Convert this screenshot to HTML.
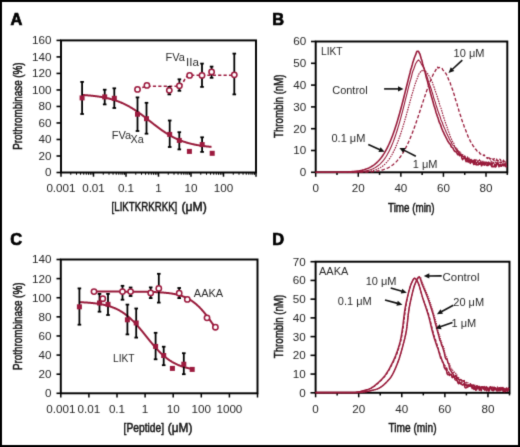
<!DOCTYPE html>
<html><head><meta charset="utf-8"><style>
html,body{margin:0;padding:0;background:#fff;}
svg{display:block;}
#w{width:520px;height:447px;overflow:hidden;}
text{font-family:"Liberation Sans", sans-serif;}
</style></head><body><div id="w">
<svg width="520" height="447" viewBox="0 0 520 447">
<defs><filter id="soft" x="0" y="0" width="520" height="447" filterUnits="userSpaceOnUse" color-interpolation-filters="sRGB"><feConvolveMatrix order="3" kernelMatrix="1 6 1 6 36 6 1 6 1" divisor="64" edgeMode="duplicate"/></filter></defs>
<g filter="url(#soft)">
<rect width="520" height="447" fill="#fff"/>
<rect x="1" y="1" width="518" height="445" fill="none" stroke="#000" stroke-width="2"/>
<text x="10.4" y="24.8" font-size="16.4" font-weight="bold" fill="#000" stroke="#000" stroke-width="0.7">A</text>
<rect x="61.0" y="40.4" width="195.0" height="132.1" fill="none" stroke="#000" stroke-width="1.95"/>
<line x1="56.50" y1="172.50" x2="61.00" y2="172.50" stroke="#000" stroke-width="1.6" />
<text x="51.50" y="176.40" font-size="10.8" text-anchor="end" fill="#262626" font-weight="normal" textLength="6.49" lengthAdjust="spacingAndGlyphs" >0</text>
<line x1="56.50" y1="155.99" x2="61.00" y2="155.99" stroke="#000" stroke-width="1.6" />
<text x="51.50" y="159.89" font-size="10.8" text-anchor="end" fill="#262626" font-weight="normal" textLength="12.97" lengthAdjust="spacingAndGlyphs" >20</text>
<line x1="56.50" y1="139.47" x2="61.00" y2="139.47" stroke="#000" stroke-width="1.6" />
<text x="51.50" y="143.38" font-size="10.8" text-anchor="end" fill="#262626" font-weight="normal" textLength="12.97" lengthAdjust="spacingAndGlyphs" >40</text>
<line x1="56.50" y1="122.96" x2="61.00" y2="122.96" stroke="#000" stroke-width="1.6" />
<text x="51.50" y="126.86" font-size="10.8" text-anchor="end" fill="#262626" font-weight="normal" textLength="12.97" lengthAdjust="spacingAndGlyphs" >60</text>
<line x1="56.50" y1="106.45" x2="61.00" y2="106.45" stroke="#000" stroke-width="1.6" />
<text x="51.50" y="110.35" font-size="10.8" text-anchor="end" fill="#262626" font-weight="normal" textLength="12.97" lengthAdjust="spacingAndGlyphs" >80</text>
<line x1="56.50" y1="89.94" x2="61.00" y2="89.94" stroke="#000" stroke-width="1.6" />
<text x="51.50" y="93.84" font-size="10.8" text-anchor="end" fill="#262626" font-weight="normal" textLength="19.46" lengthAdjust="spacingAndGlyphs" >100</text>
<line x1="56.50" y1="73.42" x2="61.00" y2="73.42" stroke="#000" stroke-width="1.6" />
<text x="51.50" y="77.33" font-size="10.8" text-anchor="end" fill="#262626" font-weight="normal" textLength="19.46" lengthAdjust="spacingAndGlyphs" >120</text>
<line x1="56.50" y1="56.91" x2="61.00" y2="56.91" stroke="#000" stroke-width="1.6" />
<text x="51.50" y="60.81" font-size="10.8" text-anchor="end" fill="#262626" font-weight="normal" textLength="19.46" lengthAdjust="spacingAndGlyphs" >140</text>
<line x1="56.50" y1="40.40" x2="61.00" y2="40.40" stroke="#000" stroke-width="1.6" />
<text x="51.50" y="44.30" font-size="10.8" text-anchor="end" fill="#262626" font-weight="normal" textLength="19.46" lengthAdjust="spacingAndGlyphs" >160</text>
<line x1="61.00" y1="172.50" x2="61.00" y2="176.70" stroke="#000" stroke-width="1.5" />
<text x="61.00" y="192.00" font-size="10.8" text-anchor="middle" fill="#262626" font-weight="normal" textLength="29.19" lengthAdjust="spacingAndGlyphs" >0.001</text>
<line x1="70.78" y1="172.50" x2="70.78" y2="174.80" stroke="#000" stroke-width="1.0" />
<line x1="76.51" y1="172.50" x2="76.51" y2="174.80" stroke="#000" stroke-width="1.0" />
<line x1="80.57" y1="172.50" x2="80.57" y2="174.80" stroke="#000" stroke-width="1.0" />
<line x1="83.72" y1="172.50" x2="83.72" y2="174.80" stroke="#000" stroke-width="1.0" />
<line x1="86.29" y1="172.50" x2="86.29" y2="174.80" stroke="#000" stroke-width="1.0" />
<line x1="88.47" y1="172.50" x2="88.47" y2="174.80" stroke="#000" stroke-width="1.0" />
<line x1="90.35" y1="172.50" x2="90.35" y2="174.80" stroke="#000" stroke-width="1.0" />
<line x1="92.01" y1="172.50" x2="92.01" y2="174.80" stroke="#000" stroke-width="1.0" />
<line x1="93.50" y1="172.50" x2="93.50" y2="176.70" stroke="#000" stroke-width="1.5" />
<text x="93.50" y="192.00" font-size="10.8" text-anchor="middle" fill="#262626" font-weight="normal" textLength="22.70" lengthAdjust="spacingAndGlyphs" >0.01</text>
<line x1="103.28" y1="172.50" x2="103.28" y2="174.80" stroke="#000" stroke-width="1.0" />
<line x1="109.01" y1="172.50" x2="109.01" y2="174.80" stroke="#000" stroke-width="1.0" />
<line x1="113.07" y1="172.50" x2="113.07" y2="174.80" stroke="#000" stroke-width="1.0" />
<line x1="116.22" y1="172.50" x2="116.22" y2="174.80" stroke="#000" stroke-width="1.0" />
<line x1="118.79" y1="172.50" x2="118.79" y2="174.80" stroke="#000" stroke-width="1.0" />
<line x1="120.97" y1="172.50" x2="120.97" y2="174.80" stroke="#000" stroke-width="1.0" />
<line x1="122.85" y1="172.50" x2="122.85" y2="174.80" stroke="#000" stroke-width="1.0" />
<line x1="124.51" y1="172.50" x2="124.51" y2="174.80" stroke="#000" stroke-width="1.0" />
<line x1="126.00" y1="172.50" x2="126.00" y2="176.70" stroke="#000" stroke-width="1.5" />
<text x="126.00" y="192.00" font-size="10.8" text-anchor="middle" fill="#262626" font-weight="normal" textLength="16.21" lengthAdjust="spacingAndGlyphs" >0.1</text>
<line x1="135.78" y1="172.50" x2="135.78" y2="174.80" stroke="#000" stroke-width="1.0" />
<line x1="141.51" y1="172.50" x2="141.51" y2="174.80" stroke="#000" stroke-width="1.0" />
<line x1="145.57" y1="172.50" x2="145.57" y2="174.80" stroke="#000" stroke-width="1.0" />
<line x1="148.72" y1="172.50" x2="148.72" y2="174.80" stroke="#000" stroke-width="1.0" />
<line x1="151.29" y1="172.50" x2="151.29" y2="174.80" stroke="#000" stroke-width="1.0" />
<line x1="153.47" y1="172.50" x2="153.47" y2="174.80" stroke="#000" stroke-width="1.0" />
<line x1="155.35" y1="172.50" x2="155.35" y2="174.80" stroke="#000" stroke-width="1.0" />
<line x1="157.01" y1="172.50" x2="157.01" y2="174.80" stroke="#000" stroke-width="1.0" />
<line x1="158.50" y1="172.50" x2="158.50" y2="176.70" stroke="#000" stroke-width="1.5" />
<text x="158.50" y="192.00" font-size="10.8" text-anchor="middle" fill="#262626" font-weight="normal" textLength="6.49" lengthAdjust="spacingAndGlyphs" >1</text>
<line x1="168.28" y1="172.50" x2="168.28" y2="174.80" stroke="#000" stroke-width="1.0" />
<line x1="174.01" y1="172.50" x2="174.01" y2="174.80" stroke="#000" stroke-width="1.0" />
<line x1="178.07" y1="172.50" x2="178.07" y2="174.80" stroke="#000" stroke-width="1.0" />
<line x1="181.22" y1="172.50" x2="181.22" y2="174.80" stroke="#000" stroke-width="1.0" />
<line x1="183.79" y1="172.50" x2="183.79" y2="174.80" stroke="#000" stroke-width="1.0" />
<line x1="185.97" y1="172.50" x2="185.97" y2="174.80" stroke="#000" stroke-width="1.0" />
<line x1="187.85" y1="172.50" x2="187.85" y2="174.80" stroke="#000" stroke-width="1.0" />
<line x1="189.51" y1="172.50" x2="189.51" y2="174.80" stroke="#000" stroke-width="1.0" />
<line x1="191.00" y1="172.50" x2="191.00" y2="176.70" stroke="#000" stroke-width="1.5" />
<text x="191.00" y="192.00" font-size="10.8" text-anchor="middle" fill="#262626" font-weight="normal" textLength="12.97" lengthAdjust="spacingAndGlyphs" >10</text>
<line x1="200.78" y1="172.50" x2="200.78" y2="174.80" stroke="#000" stroke-width="1.0" />
<line x1="206.51" y1="172.50" x2="206.51" y2="174.80" stroke="#000" stroke-width="1.0" />
<line x1="210.57" y1="172.50" x2="210.57" y2="174.80" stroke="#000" stroke-width="1.0" />
<line x1="213.72" y1="172.50" x2="213.72" y2="174.80" stroke="#000" stroke-width="1.0" />
<line x1="216.29" y1="172.50" x2="216.29" y2="174.80" stroke="#000" stroke-width="1.0" />
<line x1="218.47" y1="172.50" x2="218.47" y2="174.80" stroke="#000" stroke-width="1.0" />
<line x1="220.35" y1="172.50" x2="220.35" y2="174.80" stroke="#000" stroke-width="1.0" />
<line x1="222.01" y1="172.50" x2="222.01" y2="174.80" stroke="#000" stroke-width="1.0" />
<line x1="223.50" y1="172.50" x2="223.50" y2="176.70" stroke="#000" stroke-width="1.5" />
<text x="223.50" y="192.00" font-size="10.8" text-anchor="middle" fill="#262626" font-weight="normal" textLength="19.46" lengthAdjust="spacingAndGlyphs" >100</text>
<line x1="233.28" y1="172.50" x2="233.28" y2="174.80" stroke="#000" stroke-width="1.0" />
<line x1="239.01" y1="172.50" x2="239.01" y2="174.80" stroke="#000" stroke-width="1.0" />
<line x1="243.07" y1="172.50" x2="243.07" y2="174.80" stroke="#000" stroke-width="1.0" />
<line x1="246.22" y1="172.50" x2="246.22" y2="174.80" stroke="#000" stroke-width="1.0" />
<line x1="248.79" y1="172.50" x2="248.79" y2="174.80" stroke="#000" stroke-width="1.0" />
<line x1="250.97" y1="172.50" x2="250.97" y2="174.80" stroke="#000" stroke-width="1.0" />
<line x1="252.85" y1="172.50" x2="252.85" y2="174.80" stroke="#000" stroke-width="1.0" />
<line x1="254.51" y1="172.50" x2="254.51" y2="174.80" stroke="#000" stroke-width="1.0" />
<line x1="256.00" y1="172.50" x2="256.00" y2="176.70" stroke="#000" stroke-width="1.5" />
<text x="111.60" y="211.30" font-size="12.2" fill="#151515" stroke="#151515" stroke-width="0.5" textLength="65.70" lengthAdjust="spacingAndGlyphs">[LIKTKRKRKK]</text>
<text x="181.40" y="211.30" font-size="12.2" fill="#151515" stroke="#151515" stroke-width="0.5" textLength="25.40" lengthAdjust="spacingAndGlyphs">(μM)</text>
<text x="0" y="0" transform="translate(22.30,106.10) rotate(-90)" font-size="12.2" text-anchor="middle" fill="#151515" stroke="#151515" stroke-width="0.5" textLength="87.4" lengthAdjust="spacingAndGlyphs">Prothrombinase (%)</text>
<path d="M137.00,88.90 L137.50,88.77 L138.00,88.64 L138.50,88.51 L139.00,88.38 L139.50,88.25 L140.00,88.12 L140.50,87.99 L141.00,87.86 L141.50,87.73 L142.00,87.60 L142.50,87.47 L143.00,87.34 L143.50,87.21 L144.00,87.08 L144.50,86.95 L145.00,86.82 L145.50,86.69 L146.00,86.56 L146.50,86.43 L147.00,86.30 L147.50,86.30 L148.00,86.30 L148.50,86.30 L149.00,86.30 L149.50,86.30 L150.00,86.30 L150.50,86.30 L151.00,86.30 L151.50,86.30 L152.00,86.30 L152.50,86.30 L153.00,86.30 L153.50,86.30 L154.00,86.30 L154.50,86.30 L155.00,86.30 L155.50,86.30 L156.00,86.30 L156.50,86.30 L157.00,86.30 L157.50,86.30 L158.00,86.30 L158.50,86.30 L159.00,86.30 L159.50,86.30 L160.00,86.30 L160.50,86.30 L161.00,86.30 L161.50,86.30 L162.00,86.30 L162.50,86.30 L163.00,86.30 L163.50,86.30 L164.00,86.30 L164.50,86.30 L165.00,86.30 L165.50,86.30 L166.00,86.30 L166.50,86.30 L167.00,86.30 L167.50,86.30 L168.00,86.30 L168.50,86.30 L169.00,86.30 L169.50,86.30 L170.00,86.30 L170.50,86.30 L171.00,86.30 L171.50,86.30 L172.00,86.30 L172.50,86.29 L173.00,86.29 L173.50,86.29 L174.00,86.29 L174.50,86.28 L175.00,86.27 L175.50,86.26 L176.00,86.25 L176.50,86.23 L177.00,86.20 L177.50,86.16 L178.00,86.10 L178.50,86.02 L179.00,85.92 L179.50,85.77 L180.00,85.58 L180.50,85.32 L181.00,84.98 L181.50,84.54 L182.00,83.98 L182.50,83.31 L183.00,82.53 L183.50,81.67 L184.00,80.75 L184.50,79.83 L185.00,78.97 L185.50,78.19 L186.00,77.52 L186.50,76.96 L187.00,76.52 L187.50,76.18 L188.00,75.92 L188.50,75.73 L189.00,75.58 L189.50,75.48 L190.00,75.40 L190.50,75.34 L191.00,75.30 L191.50,75.27 L192.00,75.25 L192.50,75.24 L193.00,75.23 L193.50,75.22 L194.00,75.21 L194.50,75.21 L195.00,75.21 L195.50,75.21 L196.00,75.20 L196.50,75.20 L197.00,75.20 L197.50,75.20 L198.00,75.20 L198.50,75.20 L199.00,75.20 L199.50,75.20 L200.00,75.20 L200.50,75.20 L201.00,75.20 L201.50,75.20 L202.00,75.20 L202.50,75.20 L203.00,75.20 L203.50,75.20 L204.00,75.20 L204.50,75.20 L205.00,75.20 L205.50,75.20 L206.00,75.20 L206.50,75.20 L207.00,75.20 L207.50,75.20 L208.00,75.20 L208.50,75.20 L209.00,75.20 L209.50,75.20 L210.00,75.20 L210.50,75.20 L211.00,75.20 L211.50,75.20 L212.00,75.20 L212.50,75.20 L213.00,75.20 L213.50,75.20 L214.00,75.20 L214.50,75.20 L215.00,75.20 L215.50,75.20 L216.00,75.20 L216.50,75.20 L217.00,75.20 L217.50,75.20 L218.00,75.20 L218.50,75.20 L219.00,75.20 L219.50,75.20 L220.00,75.20 L220.50,75.20 L221.00,75.20 L221.50,75.20 L222.00,75.20 L222.50,75.20 L223.00,75.20 L223.50,75.20 L224.00,75.20 L224.50,75.20 L225.00,75.20 L225.50,75.20 L226.00,75.20 L226.50,75.20 L227.00,75.20 L227.50,75.20 L228.00,75.20 L228.50,75.20 L229.00,75.20 L229.50,75.20 L230.00,75.20 L230.50,75.20 L231.00,75.20 L231.50,75.20 L232.00,75.20 L232.50,75.20 L233.00,75.20 L233.50,75.20 L234.00,75.20 L234.50,75.20" fill="none" stroke="#9c1a3e" stroke-width="1.6" stroke-linejoin="round" stroke-dasharray="3.2,2.2"/>
<path d="M82.00,94.96 L82.50,94.99 L83.00,95.02 L83.50,95.05 L84.00,95.08 L84.50,95.12 L85.00,95.15 L85.50,95.19 L86.00,95.22 L86.50,95.26 L87.00,95.30 L87.50,95.34 L88.00,95.38 L88.50,95.42 L89.00,95.47 L89.50,95.51 L90.00,95.56 L90.50,95.60 L91.00,95.65 L91.50,95.70 L92.00,95.75 L92.50,95.81 L93.00,95.86 L93.50,95.91 L94.00,95.97 L94.50,96.03 L95.00,96.09 L95.50,96.15 L96.00,96.21 L96.50,96.28 L97.00,96.35 L97.50,96.41 L98.00,96.48 L98.50,96.56 L99.00,96.63 L99.50,96.71 L100.00,96.78 L100.50,96.86 L101.00,96.95 L101.50,97.03 L102.00,97.12 L102.50,97.21 L103.00,97.30 L103.50,97.39 L104.00,97.49 L104.50,97.58 L105.00,97.68 L105.50,97.79 L106.00,97.89 L106.50,98.00 L107.00,98.11 L107.50,98.23 L108.00,98.34 L108.50,98.46 L109.00,98.58 L109.50,98.71 L110.00,98.84 L110.50,98.97 L111.00,99.10 L111.50,99.24 L112.00,99.38 L112.50,99.53 L113.00,99.67 L113.50,99.82 L114.00,99.98 L114.50,100.14 L115.00,100.30 L115.50,100.46 L116.00,100.63 L116.50,100.80 L117.00,100.98 L117.50,101.16 L118.00,101.34 L118.50,101.53 L119.00,101.72 L119.50,101.92 L120.00,102.12 L120.50,102.32 L121.00,102.53 L121.50,102.74 L122.00,102.96 L122.50,103.18 L123.00,103.40 L123.50,103.63 L124.00,103.87 L124.50,104.10 L125.00,104.35 L125.50,104.59 L126.00,104.84 L126.50,105.10 L127.00,105.36 L127.50,105.62 L128.00,105.89 L128.50,106.16 L129.00,106.44 L129.50,106.72 L130.00,107.00 L130.50,107.29 L131.00,107.59 L131.50,107.89 L132.00,108.19 L132.50,108.50 L133.00,108.81 L133.50,109.12 L134.00,109.44 L134.50,109.76 L135.00,110.09 L135.50,110.42 L136.00,110.76 L136.50,111.09 L137.00,111.44 L137.50,111.78 L138.00,112.13 L138.50,112.48 L139.00,112.84 L139.50,113.20 L140.00,113.56 L140.50,113.92 L141.00,114.29 L141.50,114.66 L142.00,115.03 L142.50,115.41 L143.00,115.79 L143.50,116.17 L144.00,116.55 L144.50,116.93 L145.00,117.32 L145.50,117.70 L146.00,118.09 L146.50,118.48 L147.00,118.87 L147.50,119.26 L148.00,119.66 L148.50,120.05 L149.00,120.44 L149.50,120.83 L150.00,121.23 L150.50,121.62 L151.00,122.02 L151.50,122.41 L152.00,122.80 L152.50,123.19 L153.00,123.58 L153.50,123.98 L154.00,124.36 L154.50,124.75 L155.00,125.14 L155.50,125.52 L156.00,125.91 L156.50,126.29 L157.00,126.66 L157.50,127.04 L158.00,127.42 L158.50,127.79 L159.00,128.16 L159.50,128.52 L160.00,128.89 L160.50,129.25 L161.00,129.60 L161.50,129.96 L162.00,130.31 L162.50,130.66 L163.00,131.00 L163.50,131.34 L164.00,131.68 L164.50,132.01 L165.00,132.34 L165.50,132.67 L166.00,132.99 L166.50,133.31 L167.00,133.62 L167.50,133.93 L168.00,134.23 L168.50,134.53 L169.00,134.83 L169.50,135.12 L170.00,135.41 L170.50,135.69 L171.00,135.97 L171.50,136.25 L172.00,136.52 L172.50,136.79 L173.00,137.05 L173.50,137.31 L174.00,137.56 L174.50,137.81 L175.00,138.05 L175.50,138.29 L176.00,138.53 L176.50,138.76 L177.00,138.99 L177.50,139.21 L178.00,139.43 L178.50,139.64 L179.00,139.85 L179.50,140.06 L180.00,140.26 L180.50,140.46 L181.00,140.65 L181.50,140.84 L182.00,141.03 L182.50,141.21 L183.00,141.39 L183.50,141.57 L184.00,141.74 L184.50,141.90 L185.00,142.07 L185.50,142.23 L186.00,142.38 L186.50,142.54 L187.00,142.69 L187.50,142.83 L188.00,142.97 L188.50,143.11 L189.00,143.25 L189.50,143.38 L190.00,143.51 L190.50,143.64 L191.00,143.77 L191.50,143.89 L192.00,144.00 L192.50,144.12 L193.00,144.23 L193.50,144.34 L194.00,144.45 L194.50,144.55 L195.00,144.66 L195.50,144.76 L196.00,144.85 L196.50,144.95 L197.00,145.04 L197.50,145.13 L198.00,145.22 L198.50,145.30 L199.00,145.39 L199.50,145.47 L200.00,145.55 L200.50,145.62 L201.00,145.70 L201.50,145.77 L202.00,145.84 L202.50,145.91 L203.00,145.98 L203.50,146.05 L204.00,146.11 L204.50,146.17 L205.00,146.23 L205.50,146.29 L206.00,146.35 L206.50,146.41 L207.00,146.46 L207.50,146.52 L208.00,146.57 L208.50,146.62 L209.00,146.67 L209.50,146.72 L210.00,146.76 L210.50,146.81 L211.00,146.85 L211.50,146.89" fill="none" stroke="#981a3a" stroke-width="2.0" stroke-linejoin="round" />
<line x1="82.10" y1="81.90" x2="82.10" y2="114.00" stroke="#000" stroke-width="1.8" />
<line x1="80.30" y1="81.90" x2="83.90" y2="81.90" stroke="#000" stroke-width="1.8" />
<line x1="80.30" y1="114.00" x2="83.90" y2="114.00" stroke="#000" stroke-width="1.8" />
<line x1="104.70" y1="89.70" x2="104.70" y2="104.40" stroke="#000" stroke-width="1.8" />
<line x1="102.90" y1="89.70" x2="106.50" y2="89.70" stroke="#000" stroke-width="1.8" />
<line x1="102.90" y1="104.40" x2="106.50" y2="104.40" stroke="#000" stroke-width="1.8" />
<line x1="114.30" y1="88.30" x2="114.30" y2="108.00" stroke="#000" stroke-width="1.8" />
<line x1="112.50" y1="88.30" x2="116.10" y2="88.30" stroke="#000" stroke-width="1.8" />
<line x1="112.50" y1="108.00" x2="116.10" y2="108.00" stroke="#000" stroke-width="1.8" />
<line x1="137.50" y1="97.40" x2="137.50" y2="131.00" stroke="#000" stroke-width="1.8" />
<line x1="135.70" y1="97.40" x2="139.30" y2="97.40" stroke="#000" stroke-width="1.8" />
<line x1="135.70" y1="131.00" x2="139.30" y2="131.00" stroke="#000" stroke-width="1.8" />
<line x1="146.50" y1="102.80" x2="146.50" y2="133.70" stroke="#000" stroke-width="1.8" />
<line x1="144.70" y1="102.80" x2="148.30" y2="102.80" stroke="#000" stroke-width="1.8" />
<line x1="144.70" y1="133.70" x2="148.30" y2="133.70" stroke="#000" stroke-width="1.8" />
<line x1="169.70" y1="120.50" x2="169.70" y2="147.00" stroke="#000" stroke-width="1.8" />
<line x1="167.90" y1="120.50" x2="171.50" y2="120.50" stroke="#000" stroke-width="1.8" />
<line x1="167.90" y1="147.00" x2="171.50" y2="147.00" stroke="#000" stroke-width="1.8" />
<line x1="179.30" y1="132.20" x2="179.30" y2="149.40" stroke="#000" stroke-width="1.8" />
<line x1="177.50" y1="132.20" x2="181.10" y2="132.20" stroke="#000" stroke-width="1.8" />
<line x1="177.50" y1="149.40" x2="181.10" y2="149.40" stroke="#000" stroke-width="1.8" />
<line x1="202.10" y1="137.30" x2="202.10" y2="151.90" stroke="#000" stroke-width="1.8" />
<line x1="200.30" y1="137.30" x2="203.90" y2="137.30" stroke="#000" stroke-width="1.8" />
<line x1="200.30" y1="151.90" x2="203.90" y2="151.90" stroke="#000" stroke-width="1.8" />
<line x1="169.30" y1="86.90" x2="169.30" y2="94.40" stroke="#000" stroke-width="1.8" />
<line x1="167.50" y1="86.90" x2="171.10" y2="86.90" stroke="#000" stroke-width="1.8" />
<line x1="167.50" y1="94.40" x2="171.10" y2="94.40" stroke="#000" stroke-width="1.8" />
<line x1="179.40" y1="79.30" x2="179.40" y2="90.80" stroke="#000" stroke-width="1.8" />
<line x1="177.60" y1="79.30" x2="181.20" y2="79.30" stroke="#000" stroke-width="1.8" />
<line x1="177.60" y1="90.80" x2="181.20" y2="90.80" stroke="#000" stroke-width="1.8" />
<line x1="202.00" y1="63.60" x2="202.00" y2="86.90" stroke="#000" stroke-width="1.8" />
<line x1="200.20" y1="63.60" x2="203.80" y2="63.60" stroke="#000" stroke-width="1.8" />
<line x1="200.20" y1="86.90" x2="203.80" y2="86.90" stroke="#000" stroke-width="1.8" />
<line x1="211.60" y1="66.60" x2="211.60" y2="77.80" stroke="#000" stroke-width="1.8" />
<line x1="209.80" y1="66.60" x2="213.40" y2="66.60" stroke="#000" stroke-width="1.8" />
<line x1="209.80" y1="77.80" x2="213.40" y2="77.80" stroke="#000" stroke-width="1.8" />
<line x1="234.30" y1="53.60" x2="234.30" y2="94.40" stroke="#000" stroke-width="1.8" />
<line x1="232.50" y1="53.60" x2="236.10" y2="53.60" stroke="#000" stroke-width="1.8" />
<line x1="232.50" y1="94.40" x2="236.10" y2="94.40" stroke="#000" stroke-width="1.8" />
<rect x="79.60" y="95.40" width="5.0" height="5.0" fill="#9c1a3e"/>
<rect x="102.20" y="94.40" width="5.0" height="5.0" fill="#9c1a3e"/>
<rect x="111.80" y="95.80" width="5.0" height="5.0" fill="#9c1a3e"/>
<rect x="135.00" y="111.70" width="5.0" height="5.0" fill="#9c1a3e"/>
<rect x="144.00" y="116.20" width="5.0" height="5.0" fill="#9c1a3e"/>
<rect x="167.20" y="131.90" width="5.0" height="5.0" fill="#9c1a3e"/>
<rect x="176.80" y="137.90" width="5.0" height="5.0" fill="#9c1a3e"/>
<rect x="186.90" y="148.90" width="5.0" height="5.0" fill="#9c1a3e"/>
<rect x="199.70" y="142.10" width="5.0" height="5.0" fill="#9c1a3e"/>
<rect x="209.70" y="150.80" width="5.0" height="5.0" fill="#9c1a3e"/>
<circle cx="137.50" cy="89.40" r="2.65" fill="#fff" stroke="#9c1a3e" stroke-width="1.55"/>
<circle cx="146.90" cy="85.40" r="2.65" fill="#fff" stroke="#9c1a3e" stroke-width="1.55"/>
<circle cx="169.30" cy="90.30" r="2.65" fill="#fff" stroke="#9c1a3e" stroke-width="1.55"/>
<circle cx="179.40" cy="85.80" r="2.65" fill="#fff" stroke="#9c1a3e" stroke-width="1.55"/>
<circle cx="189.60" cy="75.40" r="2.65" fill="#fff" stroke="#9c1a3e" stroke-width="1.55"/>
<circle cx="202.00" cy="75.40" r="2.65" fill="#fff" stroke="#9c1a3e" stroke-width="1.55"/>
<circle cx="211.60" cy="71.90" r="2.65" fill="#fff" stroke="#9c1a3e" stroke-width="1.55"/>
<circle cx="234.30" cy="74.80" r="2.65" fill="#fff" stroke="#9c1a3e" stroke-width="1.55"/>
<text x="165.50" y="61.30" font-size="11" text-anchor="start" fill="#2a2a2a" font-weight="normal" >FVa</text>
<text x="186.00" y="65.80" font-size="10.8" text-anchor="start" fill="#2a2a2a" font-weight="normal" textLength="12.97" lengthAdjust="spacingAndGlyphs" >IIa</text>
<text x="111.80" y="139.20" font-size="11" text-anchor="start" fill="#2a2a2a" font-weight="normal" >FVa</text>
<text x="130.50" y="143.10" font-size="10.8" text-anchor="start" fill="#2a2a2a" font-weight="normal" >Xa</text>
<text x="272.2" y="25.4" font-size="16.4" font-weight="bold" fill="#000" stroke="#000" stroke-width="0.7">B</text>
<rect x="315.7" y="41.5" width="191.60000000000002" height="130.8" fill="none" stroke="#000" stroke-width="1.95"/>
<line x1="311.00" y1="172.30" x2="315.70" y2="172.30" stroke="#000" stroke-width="1.6" />
<text x="306.30" y="176.20" font-size="10.8" text-anchor="end" fill="#262626" font-weight="normal" textLength="6.49" lengthAdjust="spacingAndGlyphs" >0</text>
<line x1="311.00" y1="150.50" x2="315.70" y2="150.50" stroke="#000" stroke-width="1.6" />
<text x="306.30" y="154.40" font-size="10.8" text-anchor="end" fill="#262626" font-weight="normal" textLength="12.97" lengthAdjust="spacingAndGlyphs" >10</text>
<line x1="311.00" y1="128.70" x2="315.70" y2="128.70" stroke="#000" stroke-width="1.6" />
<text x="306.30" y="132.60" font-size="10.8" text-anchor="end" fill="#262626" font-weight="normal" textLength="12.97" lengthAdjust="spacingAndGlyphs" >20</text>
<line x1="311.00" y1="106.90" x2="315.70" y2="106.90" stroke="#000" stroke-width="1.6" />
<text x="306.30" y="110.80" font-size="10.8" text-anchor="end" fill="#262626" font-weight="normal" textLength="12.97" lengthAdjust="spacingAndGlyphs" >30</text>
<line x1="311.00" y1="85.10" x2="315.70" y2="85.10" stroke="#000" stroke-width="1.6" />
<text x="306.30" y="89.00" font-size="10.8" text-anchor="end" fill="#262626" font-weight="normal" textLength="12.97" lengthAdjust="spacingAndGlyphs" >40</text>
<line x1="311.00" y1="63.30" x2="315.70" y2="63.30" stroke="#000" stroke-width="1.6" />
<text x="306.30" y="67.20" font-size="10.8" text-anchor="end" fill="#262626" font-weight="normal" textLength="12.97" lengthAdjust="spacingAndGlyphs" >50</text>
<line x1="311.00" y1="41.50" x2="315.70" y2="41.50" stroke="#000" stroke-width="1.6" />
<text x="306.30" y="45.40" font-size="10.8" text-anchor="end" fill="#262626" font-weight="normal" textLength="12.97" lengthAdjust="spacingAndGlyphs" >60</text>
<line x1="315.70" y1="172.30" x2="315.70" y2="176.80" stroke="#000" stroke-width="1.5" />
<text x="315.70" y="192.00" font-size="10.8" text-anchor="middle" fill="#262626" font-weight="normal" textLength="6.49" lengthAdjust="spacingAndGlyphs" >0</text>
<line x1="336.99" y1="172.30" x2="336.99" y2="174.90" stroke="#000" stroke-width="1.5" />
<line x1="358.28" y1="172.30" x2="358.28" y2="176.80" stroke="#000" stroke-width="1.5" />
<text x="358.28" y="192.00" font-size="10.8" text-anchor="middle" fill="#262626" font-weight="normal" textLength="12.97" lengthAdjust="spacingAndGlyphs" >20</text>
<line x1="379.57" y1="172.30" x2="379.57" y2="174.90" stroke="#000" stroke-width="1.5" />
<line x1="400.86" y1="172.30" x2="400.86" y2="176.80" stroke="#000" stroke-width="1.5" />
<text x="400.86" y="192.00" font-size="10.8" text-anchor="middle" fill="#262626" font-weight="normal" textLength="12.97" lengthAdjust="spacingAndGlyphs" >40</text>
<line x1="422.14" y1="172.30" x2="422.14" y2="174.90" stroke="#000" stroke-width="1.5" />
<line x1="443.43" y1="172.30" x2="443.43" y2="176.80" stroke="#000" stroke-width="1.5" />
<text x="443.43" y="192.00" font-size="10.8" text-anchor="middle" fill="#262626" font-weight="normal" textLength="12.97" lengthAdjust="spacingAndGlyphs" >60</text>
<line x1="464.72" y1="172.30" x2="464.72" y2="174.90" stroke="#000" stroke-width="1.5" />
<line x1="486.01" y1="172.30" x2="486.01" y2="176.80" stroke="#000" stroke-width="1.5" />
<text x="486.01" y="192.00" font-size="10.8" text-anchor="middle" fill="#262626" font-weight="normal" textLength="12.97" lengthAdjust="spacingAndGlyphs" >80</text>
<line x1="507.30" y1="172.30" x2="507.30" y2="174.90" stroke="#000" stroke-width="1.5" />
<text x="388.00" y="211.50" font-size="12.2" fill="#151515" stroke="#151515" stroke-width="0.5" textLength="46.60" lengthAdjust="spacingAndGlyphs">Time (min)</text>
<text x="0" y="0" transform="translate(283.40,106.20) rotate(-90)" font-size="12.2" text-anchor="middle" fill="#151515" stroke="#151515" stroke-width="0.5" textLength="63.5" lengthAdjust="spacingAndGlyphs">Thrombin (nM)</text>
<path d="M315.60,172.30 L316.30,172.30 L317.00,172.30 L317.70,172.29 L318.40,172.29 L319.10,172.29 L319.80,172.29 L320.50,172.29 L321.20,172.29 L321.90,172.29 L322.60,172.29 L323.30,172.29 L324.00,172.29 L324.70,172.28 L325.40,172.28 L326.10,172.28 L326.80,172.28 L327.50,172.28 L328.20,172.27 L328.90,172.27 L329.60,172.27 L330.30,172.27 L331.00,172.26 L331.70,172.26 L332.40,172.25 L333.10,172.25 L333.80,172.24 L334.50,172.24 L335.20,172.23 L335.90,172.22 L336.60,172.22 L337.30,172.21 L338.00,172.20 L338.70,172.19 L339.40,172.18 L340.10,172.16 L340.80,172.15 L341.50,172.14 L342.20,172.12 L342.90,172.10 L343.60,172.08 L344.30,172.06 L345.00,172.04 L345.70,172.01 L346.40,171.99 L347.10,171.96 L347.80,171.93 L348.50,171.89 L349.20,171.85 L349.90,171.81 L350.60,171.77 L351.30,171.72 L352.00,171.66 L352.70,171.61 L353.40,171.54 L354.10,171.48 L354.80,171.40 L355.50,171.33 L356.20,171.24 L356.90,171.15 L357.60,171.05 L358.30,170.94 L359.00,170.83 L359.70,170.70 L360.40,170.57 L361.10,170.42 L361.80,170.27 L362.50,170.10 L363.20,169.92 L363.90,169.73 L364.60,169.52 L365.30,169.30 L366.00,169.06 L366.70,168.81 L367.40,168.54 L368.10,168.25 L368.80,167.94 L369.50,167.61 L370.20,167.25 L370.90,166.88 L371.60,166.47 L372.30,166.05 L373.00,165.59 L373.70,165.11 L374.40,164.59 L375.10,164.04 L375.80,163.47 L376.50,162.85 L377.20,162.20 L377.90,161.51 L378.60,160.78 L379.30,160.01 L380.00,159.20 L380.70,158.34 L381.40,157.44 L382.10,156.49 L382.80,155.49 L383.50,154.43 L384.20,153.33 L384.90,152.17 L385.60,150.95 L386.30,149.68 L387.00,148.35 L387.70,146.95 L388.40,145.50 L389.10,143.98 L389.80,142.40 L390.50,140.75 L391.20,139.04 L391.90,137.26 L392.60,135.41 L393.30,133.50 L394.00,131.52 L394.70,129.47 L395.40,127.36 L396.10,125.18 L396.80,122.94 L397.50,120.63 L398.20,118.26 L398.90,115.83 L399.60,113.35 L400.30,110.81 L401.00,108.22 L401.70,105.59 L402.40,102.91 L403.10,100.19 L403.80,97.44 L404.50,94.67 L405.20,91.87 L405.90,89.06 L406.60,86.25 L407.30,83.44 L408.00,80.64 L408.70,77.87 L409.40,75.13 L410.10,72.43 L410.80,69.43 L411.50,67.58 L412.20,65.02 L412.90,62.15 L413.60,60.14 L414.30,58.00 L415.00,56.28 L415.70,54.69 L416.40,52.51 L417.10,51.26 L417.80,51.28 L418.50,51.20 L419.20,52.93 L419.90,53.96 L420.60,56.43 L421.30,58.93 L422.00,60.80 L422.70,63.98 L423.40,66.49 L424.10,68.23 L424.80,70.89 L425.50,74.09 L426.20,77.19 L426.90,79.34 L427.60,81.88 L428.30,84.78 L429.00,87.06 L429.70,89.90 L430.40,92.73 L431.10,95.37 L431.80,97.65 L432.50,100.14 L433.20,102.57 L433.90,105.20 L434.60,107.37 L435.30,109.39 L436.00,112.43 L436.70,114.32 L437.40,116.52 L438.10,118.11 L438.80,120.91 L439.50,122.71 L440.20,123.84 L440.90,125.87 L441.60,128.01 L442.30,129.69 L443.00,131.55 L443.70,132.61 L444.40,134.54 L445.10,135.68 L445.80,137.04 L446.50,138.47 L447.20,139.96 L447.90,141.25 L448.60,142.20 L449.30,143.45 L450.00,143.87 L450.70,145.14 L451.40,147.01 L452.10,147.35 L452.80,147.79 L453.50,149.42 L454.20,150.64 L454.90,151.42 L455.60,151.42 L456.30,152.32 L457.00,153.22 L457.70,154.76 L458.40,154.58 L459.10,154.74 L459.80,155.66 L460.50,154.46 L461.20,155.04 L461.90,158.05 L462.60,159.58 L463.30,158.55 L464.00,158.22 L464.70,157.78 L465.40,159.43 L466.10,161.62 L466.80,161.16 L467.50,160.61 L468.20,162.14 L468.90,160.05 L469.60,161.40 L470.30,163.33 L471.00,162.16 L471.70,161.95 L472.40,161.45 L473.10,162.72 L473.80,164.48 L474.50,161.05 L475.20,164.19 L475.90,164.50 L476.60,164.91 L477.30,164.51 L478.00,164.91 L478.70,163.94 L479.40,164.23 L480.10,163.84 L480.80,162.55 L481.50,165.75 L482.20,164.71 L482.90,163.40 L483.60,164.65 L484.30,164.66 L485.00,164.25 L485.70,164.29 L486.40,165.09 L487.10,165.49 L487.80,165.51 L488.50,164.98 L489.20,163.41 L489.90,164.23 L490.60,164.08 L491.30,165.68 L492.00,166.77 L492.70,166.58 L493.40,166.62 L494.10,166.73 L494.80,164.64 L495.50,166.90 L496.20,166.29 L496.90,164.08 L497.60,163.86 L498.30,163.88 L499.00,166.73 L499.70,164.83 L500.40,164.32 L501.10,166.30 L501.80,165.26 L502.50,164.24 L503.20,164.60 L503.90,166.02 L504.60,164.68 L505.30,165.09 L506.00,166.78 L506.70,165.82" fill="none" stroke="#981a3a" stroke-width="1.6" stroke-linejoin="round" />
<path d="M315.60,172.30 L316.30,172.30 L317.00,172.30 L317.70,172.30 L318.40,172.30 L319.10,172.30 L319.80,172.30 L320.50,172.30 L321.20,172.30 L321.90,172.30 L322.60,172.30 L323.30,172.30 L324.00,172.30 L324.70,172.30 L325.40,172.30 L326.10,172.30 L326.80,172.30 L327.50,172.30 L328.20,172.30 L328.90,172.30 L329.60,172.30 L330.30,172.30 L331.00,172.30 L331.70,172.29 L332.40,172.29 L333.10,172.29 L333.80,172.29 L334.50,172.29 L335.20,172.29 L335.90,172.29 L336.60,172.29 L337.30,172.28 L338.00,172.28 L338.70,172.28 L339.40,172.28 L340.10,172.28 L340.80,172.27 L341.50,172.27 L342.20,172.26 L342.90,172.26 L343.60,172.25 L344.30,172.25 L345.00,172.24 L345.70,172.23 L346.40,172.23 L347.10,172.22 L347.80,172.21 L348.50,172.20 L349.20,172.18 L349.90,172.17 L350.60,172.15 L351.30,172.14 L352.00,172.12 L352.70,172.10 L353.40,172.07 L354.10,172.05 L354.80,172.02 L355.50,171.98 L356.20,171.95 L356.90,171.91 L357.60,171.87 L358.30,171.82 L359.00,171.76 L359.70,171.71 L360.40,171.64 L361.10,171.57 L361.80,171.50 L362.50,171.41 L363.20,171.32 L363.90,171.22 L364.60,171.10 L365.30,170.98 L366.00,170.85 L366.70,170.71 L367.40,170.55 L368.10,170.38 L368.80,170.19 L369.50,169.99 L370.20,169.77 L370.90,169.53 L371.60,169.27 L372.30,168.99 L373.00,168.69 L373.70,168.36 L374.40,168.01 L375.10,167.63 L375.80,167.22 L376.50,166.77 L377.20,166.30 L377.90,165.79 L378.60,165.25 L379.30,164.66 L380.00,164.04 L380.70,163.37 L381.40,162.65 L382.10,161.89 L382.80,161.08 L383.50,160.22 L384.20,159.31 L384.90,158.33 L385.60,157.30 L386.30,156.21 L387.00,155.06 L387.70,153.84 L388.40,152.56 L389.10,151.21 L389.80,149.79 L390.50,148.29 L391.20,146.73 L391.90,145.09 L392.60,143.38 L393.30,141.59 L394.00,139.72 L394.70,137.78 L395.40,135.77 L396.10,133.67 L396.80,131.51 L397.50,129.27 L398.20,126.96 L398.90,124.58 L399.60,122.14 L400.30,119.63 L401.00,117.06 L401.70,114.44 L402.40,111.77 L403.10,109.06 L403.80,106.31 L404.50,103.53 L405.20,100.72 L405.90,97.91 L406.60,95.08 L407.30,92.27 L408.00,89.47 L408.70,86.69 L409.40,83.96 L410.10,81.28 L410.80,79.13 L411.50,76.59 L412.20,73.28 L412.90,71.00 L413.60,69.58 L414.30,67.46 L415.00,65.56 L415.70,63.58 L416.40,62.49 L417.10,61.39 L417.80,60.62 L418.50,60.00 L419.20,60.67 L419.90,61.31 L420.60,62.53 L421.30,63.87 L422.00,65.06 L422.70,66.04 L423.40,67.44 L424.10,68.88 L424.80,70.37 L425.50,72.17 L426.20,74.50 L426.90,76.31 L427.60,78.39 L428.30,80.96 L429.00,82.71 L429.70,84.89 L430.40,86.73 L431.10,88.71 L431.80,91.22 L432.50,93.24 L433.20,95.83 L433.90,98.52 L434.60,100.40 L435.30,102.09 L436.00,104.97 L436.70,107.02 L437.40,109.07 L438.10,111.33 L438.80,113.24 L439.50,115.29 L440.20,116.83 L440.90,119.40 L441.60,121.28 L442.30,122.33 L443.00,124.73 L443.70,126.45 L444.40,127.91 L445.10,129.61 L445.80,131.22 L446.50,132.94 L447.20,134.29 L447.90,136.00 L448.60,137.03 L449.30,138.95 L450.00,140.35 L450.70,141.05 L451.40,142.43 L452.10,144.24 L452.80,145.05 L453.50,145.65 L454.20,146.06 L454.90,147.25 L455.60,149.16 L456.30,148.57 L457.00,151.62 L457.70,150.45 L458.40,153.37 L459.10,152.03 L459.80,155.13 L460.50,154.87 L461.20,154.73 L461.90,155.39 L462.60,156.46 L463.30,156.76 L464.00,156.23 L464.70,156.31 L465.40,157.93 L466.10,159.96 L466.80,159.19 L467.50,157.49 L468.20,160.68 L468.90,160.66 L469.60,161.67 L470.30,159.25 L471.00,161.64 L471.70,159.30 L472.40,161.81 L473.10,160.60 L473.80,160.64 L474.50,163.31 L475.20,160.58 L475.90,162.35 L476.60,163.78 L477.30,161.62 L478.00,161.64 L478.70,164.32 L479.40,162.72 L480.10,163.95 L480.80,161.46 L481.50,162.83 L482.20,162.20 L482.90,164.20 L483.60,162.04 L484.30,165.44 L485.00,161.98 L485.70,164.73 L486.40,162.10 L487.10,163.06 L487.80,165.23 L488.50,162.79 L489.20,162.95 L489.90,164.92 L490.60,163.80 L491.30,162.55 L492.00,166.18 L492.70,163.03 L493.40,162.63 L494.10,163.83 L494.80,164.89 L495.50,165.41 L496.20,163.04 L496.90,163.92 L497.60,162.78 L498.30,164.39 L499.00,165.62 L499.70,165.54 L500.40,166.18 L501.10,165.64 L501.80,166.07 L502.50,165.49 L503.20,164.62 L503.90,163.70 L504.60,165.37 L505.30,164.08 L506.00,163.28 L506.70,164.61" fill="none" stroke="#981a3a" stroke-width="1.1" stroke-linejoin="round" />
<path d="M315.60,172.30 L316.30,172.30 L317.00,172.30 L317.70,172.30 L318.40,172.30 L319.10,172.30 L319.80,172.30 L320.50,172.30 L321.20,172.30 L321.90,172.30 L322.60,172.30 L323.30,172.30 L324.00,172.30 L324.70,172.30 L325.40,172.30 L326.10,172.30 L326.80,172.30 L327.50,172.30 L328.20,172.30 L328.90,172.30 L329.60,172.30 L330.30,172.30 L331.00,172.30 L331.70,172.30 L332.40,172.30 L333.10,172.30 L333.80,172.30 L334.50,172.30 L335.20,172.30 L335.90,172.30 L336.60,172.30 L337.30,172.30 L338.00,172.30 L338.70,172.30 L339.40,172.30 L340.10,172.30 L340.80,172.29 L341.50,172.29 L342.20,172.29 L342.90,172.29 L343.60,172.29 L344.30,172.29 L345.00,172.29 L345.70,172.28 L346.40,172.28 L347.10,172.28 L347.80,172.28 L348.50,172.27 L349.20,172.27 L349.90,172.26 L350.60,172.26 L351.30,172.25 L352.00,172.25 L352.70,172.24 L353.40,172.23 L354.10,172.22 L354.80,172.21 L355.50,172.20 L356.20,172.19 L356.90,172.17 L357.60,172.15 L358.30,172.14 L359.00,172.11 L359.70,172.09 L360.40,172.06 L361.10,172.03 L361.80,172.00 L362.50,171.96 L363.20,171.92 L363.90,171.87 L364.60,171.82 L365.30,171.77 L366.00,171.70 L366.70,171.63 L367.40,171.56 L368.10,171.47 L368.80,171.38 L369.50,171.27 L370.20,171.16 L370.90,171.03 L371.60,170.89 L372.30,170.74 L373.00,170.57 L373.70,170.39 L374.40,170.19 L375.10,169.97 L375.80,169.74 L376.50,169.48 L377.20,169.20 L377.90,168.89 L378.60,168.56 L379.30,168.20 L380.00,167.81 L380.70,167.39 L381.40,166.94 L382.10,166.45 L382.80,165.93 L383.50,165.36 L384.20,164.75 L384.90,164.10 L385.60,163.41 L386.30,162.66 L387.00,161.87 L387.70,161.02 L388.40,160.12 L389.10,159.16 L389.80,158.15 L390.50,157.07 L391.20,155.93 L391.90,154.73 L392.60,153.46 L393.30,152.12 L394.00,150.72 L394.70,149.24 L395.40,147.70 L396.10,146.09 L396.80,144.40 L397.50,142.64 L398.20,140.81 L398.90,138.92 L399.60,136.95 L400.30,134.92 L401.00,132.82 L401.70,130.66 L402.40,128.43 L403.10,126.15 L403.80,123.82 L404.50,121.44 L405.20,119.02 L405.90,116.56 L406.60,114.06 L407.30,111.54 L408.00,109.01 L408.70,106.46 L409.40,103.91 L410.10,101.37 L410.80,98.84 L411.50,96.34 L412.20,93.88 L412.90,91.46 L413.60,89.11 L414.30,86.82 L415.00,84.36 L415.70,82.56 L416.40,80.39 L417.10,78.75 L417.80,77.04 L418.50,74.90 L419.20,73.44 L419.90,73.04 L420.60,71.45 L421.30,70.64 L422.00,70.88 L422.70,70.17 L423.40,70.63 L424.10,70.49 L424.80,71.00 L425.50,70.99 L426.20,72.09 L426.90,73.06 L427.60,73.60 L428.30,74.82 L429.00,75.88 L429.70,76.53 L430.40,78.59 L431.10,79.91 L431.80,81.20 L432.50,82.62 L433.20,85.23 L433.90,86.71 L434.60,88.89 L435.30,91.07 L436.00,92.97 L436.70,95.31 L437.40,96.95 L438.10,99.57 L438.80,101.44 L439.50,104.19 L440.20,106.40 L440.90,107.89 L441.60,110.19 L442.30,112.53 L443.00,115.51 L443.70,117.19 L444.40,119.57 L445.10,121.58 L445.80,123.68 L446.50,125.69 L447.20,127.65 L447.90,129.74 L448.60,131.65 L449.30,133.83 L450.00,135.38 L450.70,137.47 L451.40,139.05 L452.10,140.91 L452.80,141.86 L453.50,142.21 L454.20,145.13 L454.90,146.73 L455.60,147.86 L456.30,148.11 L457.00,149.64 L457.70,149.08 L458.40,152.08 L459.10,152.11 L459.80,151.87 L460.50,151.79 L461.20,155.51 L461.90,156.70 L462.60,153.89 L463.30,157.17 L464.00,156.21 L464.70,155.71 L465.40,156.71 L466.10,158.92 L466.80,159.69 L467.50,156.89 L468.20,159.37 L468.90,157.49 L469.60,160.31 L470.30,159.07 L471.00,161.38 L471.70,161.95 L472.40,160.33 L473.10,162.36 L473.80,159.89 L474.50,159.13 L475.20,161.24 L475.90,159.19 L476.60,159.91 L477.30,160.80 L478.00,161.65 L478.70,160.00 L479.40,159.63 L480.10,162.83 L480.80,160.78 L481.50,163.28 L482.20,163.09 L482.90,161.16 L483.60,161.51 L484.30,161.77 L485.00,162.28 L485.70,162.12 L486.40,162.01 L487.10,162.27 L487.80,163.52 L488.50,161.90 L489.20,161.63 L489.90,162.75 L490.60,160.94 L491.30,161.20 L492.00,163.79 L492.70,162.08 L493.40,162.20 L494.10,160.18 L494.80,161.74 L495.50,162.38 L496.20,160.27 L496.90,162.55 L497.60,162.63 L498.30,160.48 L499.00,162.65 L499.70,162.06 L500.40,162.88 L501.10,161.66 L501.80,163.02 L502.50,163.16 L503.20,160.46 L503.90,160.62 L504.60,162.98 L505.30,164.08 L506.00,161.39 L506.70,162.19" fill="none" stroke="#981a3a" stroke-width="1.15" stroke-linejoin="round" stroke-dasharray="1.6,0.9"/>
<path d="M315.60,172.30 L316.30,172.30 L317.00,172.30 L317.70,172.30 L318.40,172.30 L319.10,172.30 L319.80,172.30 L320.50,172.30 L321.20,172.30 L321.90,172.30 L322.60,172.30 L323.30,172.30 L324.00,172.30 L324.70,172.30 L325.40,172.30 L326.10,172.30 L326.80,172.30 L327.50,172.30 L328.20,172.30 L328.90,172.30 L329.60,172.30 L330.30,172.30 L331.00,172.30 L331.70,172.30 L332.40,172.30 L333.10,172.30 L333.80,172.30 L334.50,172.30 L335.20,172.30 L335.90,172.30 L336.60,172.30 L337.30,172.30 L338.00,172.30 L338.70,172.30 L339.40,172.30 L340.10,172.30 L340.80,172.30 L341.50,172.30 L342.20,172.30 L342.90,172.30 L343.60,172.29 L344.30,172.29 L345.00,172.29 L345.70,172.29 L346.40,172.29 L347.10,172.29 L347.80,172.29 L348.50,172.29 L349.20,172.29 L349.90,172.28 L350.60,172.28 L351.30,172.28 L352.00,172.28 L352.70,172.27 L353.40,172.27 L354.10,172.27 L354.80,172.26 L355.50,172.26 L356.20,172.25 L356.90,172.24 L357.60,172.24 L358.30,172.23 L359.00,172.22 L359.70,172.21 L360.40,172.20 L361.10,172.19 L361.80,172.17 L362.50,172.16 L363.20,172.14 L363.90,172.12 L364.60,172.10 L365.30,172.08 L366.00,172.06 L366.70,172.03 L367.40,172.00 L368.10,171.97 L368.80,171.93 L369.50,171.89 L370.20,171.85 L370.90,171.80 L371.60,171.75 L372.30,171.69 L373.00,171.63 L373.70,171.56 L374.40,171.48 L375.10,171.40 L375.80,171.31 L376.50,171.21 L377.20,171.11 L377.90,170.99 L378.60,170.87 L379.30,170.73 L380.00,170.59 L380.70,170.43 L381.40,170.26 L382.10,170.07 L382.80,169.87 L383.50,169.66 L384.20,169.42 L384.90,169.18 L385.60,168.91 L386.30,168.62 L387.00,168.31 L387.70,167.98 L388.40,167.63 L389.10,167.25 L389.80,166.84 L390.50,166.41 L391.20,165.95 L391.90,165.47 L392.60,164.95 L393.30,164.40 L394.00,163.81 L394.70,163.19 L395.40,162.53 L396.10,161.84 L396.80,161.11 L397.50,160.33 L398.20,159.52 L398.90,158.66 L399.60,157.76 L400.30,156.82 L401.00,155.83 L401.70,154.79 L402.40,153.70 L403.10,152.57 L403.80,151.38 L404.50,150.15 L405.20,148.86 L405.90,147.53 L406.60,146.14 L407.30,144.71 L408.00,143.22 L408.70,141.68 L409.40,140.09 L410.10,138.46 L410.80,136.77 L411.50,135.04 L412.20,133.26 L412.90,131.44 L413.60,129.57 L414.30,127.67 L415.00,125.72 L415.70,123.74 L416.40,121.73 L417.10,119.69 L417.80,117.62 L418.50,115.53 L419.20,113.42 L419.90,111.29 L420.60,109.15 L421.30,107.01 L422.00,104.87 L422.70,102.72 L423.40,100.59 L424.10,98.47 L424.80,96.37 L425.50,94.29 L426.20,92.24 L426.90,90.23 L427.60,88.27 L428.30,86.35 L429.00,84.49 L429.70,82.69 L430.40,80.95 L431.10,79.29 L431.80,77.71 L432.50,75.96 L433.20,74.43 L433.90,73.42 L434.60,71.99 L435.30,70.80 L436.00,69.68 L436.70,67.71 L437.40,67.12 L438.10,68.10 L438.80,67.51 L439.50,67.60 L440.20,67.37 L440.90,67.64 L441.60,68.04 L442.30,68.72 L443.00,70.11 L443.70,70.80 L444.40,71.68 L445.10,72.69 L445.80,73.22 L446.50,74.58 L447.20,76.26 L447.90,77.84 L448.60,79.55 L449.30,81.25 L450.00,82.24 L450.70,84.62 L451.40,86.64 L452.10,88.49 L452.80,90.26 L453.50,92.70 L454.20,94.52 L454.90,97.60 L455.60,99.80 L456.30,101.78 L457.00,103.84 L457.70,106.76 L458.40,108.73 L459.10,111.34 L459.80,113.58 L460.50,115.49 L461.20,117.61 L461.90,119.97 L462.60,121.93 L463.30,123.73 L464.00,125.89 L464.70,128.35 L465.40,129.46 L466.10,131.28 L466.80,133.61 L467.50,134.93 L468.20,136.78 L468.90,138.24 L469.60,139.56 L470.30,141.11 L471.00,142.33 L471.70,143.58 L472.40,144.64 L473.10,145.91 L473.80,146.72 L474.50,147.70 L475.20,148.90 L475.90,149.36 L476.60,150.36 L477.30,151.49 L478.00,151.18 L478.70,151.70 L479.40,152.48 L480.10,153.85 L480.80,154.12 L481.50,153.90 L482.20,154.48 L482.90,154.54 L483.60,155.49 L484.30,154.88 L485.00,156.72 L485.70,157.50 L486.40,157.92 L487.10,157.66 L487.80,158.45 L488.50,156.43 L489.20,157.30 L489.90,159.14 L490.60,158.88 L491.30,158.20 L492.00,159.66 L492.70,159.07 L493.40,159.71 L494.10,158.62 L494.80,158.53 L495.50,159.29 L496.20,158.71 L496.90,159.44 L497.60,160.98 L498.30,159.61 L499.00,158.97 L499.70,159.19 L500.40,159.62 L501.10,161.23 L501.80,160.35 L502.50,160.30 L503.20,159.96 L503.90,162.21 L504.60,160.99 L505.30,160.59 L506.00,160.35 L506.70,160.46" fill="none" stroke="#981a3a" stroke-width="1.3" stroke-linejoin="round" stroke-dasharray="3.5,2"/>
<text x="321.00" y="55.40" font-size="11" text-anchor="start" fill="#2a2a2a" font-weight="normal" textLength="21.60" lengthAdjust="spacingAndGlyphs" >LIKT</text>
<text x="332.20" y="93.50" font-size="11" text-anchor="start" fill="#2a2a2a" font-weight="normal" >Control</text>
<line x1="384.10" y1="88.90" x2="398.50" y2="88.90" stroke="#111" stroke-width="1.6" />
<path d="M403.50,88.90 L398.00,91.50 L398.00,86.30 Z" fill="#111"/>
<text x="453.60" y="57.40" font-size="11" text-anchor="start" fill="#2a2a2a" font-weight="normal" >10 μM</text>
<line x1="462.30" y1="60.20" x2="452.18" y2="69.51" stroke="#111" stroke-width="1.6" />
<path d="M448.50,72.90 L450.79,67.26 L454.31,71.09 Z" fill="#111"/>
<text x="331.50" y="142.20" font-size="11" text-anchor="start" fill="#2a2a2a" font-weight="normal" >0.1 μM</text>
<line x1="368.30" y1="144.40" x2="379.95" y2="149.72" stroke="#111" stroke-width="1.6" />
<path d="M384.50,151.80 L378.42,151.88 L380.58,147.15 Z" fill="#111"/>
<text x="412.80" y="167.70" font-size="11" text-anchor="start" fill="#2a2a2a" font-weight="normal" >1 μM</text>
<line x1="415.80" y1="156.20" x2="403.86" y2="150.16" stroke="#111" stroke-width="1.6" />
<path d="M399.40,147.90 L405.48,148.06 L403.13,152.70 Z" fill="#111"/>
<text x="10.2" y="244.5" font-size="16.4" font-weight="bold" fill="#000" stroke="#000" stroke-width="0.7">C</text>
<rect x="60.8" y="259.5" width="196.7" height="133.8" fill="none" stroke="#000" stroke-width="1.95"/>
<line x1="56.50" y1="393.30" x2="60.80" y2="393.30" stroke="#000" stroke-width="1.6" />
<text x="51.50" y="397.20" font-size="10.8" text-anchor="end" fill="#262626" font-weight="normal" textLength="6.49" lengthAdjust="spacingAndGlyphs" >0</text>
<line x1="56.50" y1="374.19" x2="60.80" y2="374.19" stroke="#000" stroke-width="1.6" />
<text x="51.50" y="378.09" font-size="10.8" text-anchor="end" fill="#262626" font-weight="normal" textLength="12.97" lengthAdjust="spacingAndGlyphs" >20</text>
<line x1="56.50" y1="355.07" x2="60.80" y2="355.07" stroke="#000" stroke-width="1.6" />
<text x="51.50" y="358.97" font-size="10.8" text-anchor="end" fill="#262626" font-weight="normal" textLength="12.97" lengthAdjust="spacingAndGlyphs" >40</text>
<line x1="56.50" y1="335.96" x2="60.80" y2="335.96" stroke="#000" stroke-width="1.6" />
<text x="51.50" y="339.86" font-size="10.8" text-anchor="end" fill="#262626" font-weight="normal" textLength="12.97" lengthAdjust="spacingAndGlyphs" >60</text>
<line x1="56.50" y1="316.84" x2="60.80" y2="316.84" stroke="#000" stroke-width="1.6" />
<text x="51.50" y="320.74" font-size="10.8" text-anchor="end" fill="#262626" font-weight="normal" textLength="12.97" lengthAdjust="spacingAndGlyphs" >80</text>
<line x1="56.50" y1="297.73" x2="60.80" y2="297.73" stroke="#000" stroke-width="1.6" />
<text x="51.50" y="301.63" font-size="10.8" text-anchor="end" fill="#262626" font-weight="normal" textLength="19.46" lengthAdjust="spacingAndGlyphs" >100</text>
<line x1="56.50" y1="278.61" x2="60.80" y2="278.61" stroke="#000" stroke-width="1.6" />
<text x="51.50" y="282.51" font-size="10.8" text-anchor="end" fill="#262626" font-weight="normal" textLength="19.46" lengthAdjust="spacingAndGlyphs" >120</text>
<line x1="56.50" y1="259.50" x2="60.80" y2="259.50" stroke="#000" stroke-width="1.6" />
<text x="51.50" y="263.40" font-size="10.8" text-anchor="end" fill="#262626" font-weight="normal" textLength="19.46" lengthAdjust="spacingAndGlyphs" >140</text>
<line x1="60.80" y1="393.30" x2="60.80" y2="397.50" stroke="#000" stroke-width="1.5" />
<text x="60.80" y="412.50" font-size="10.8" text-anchor="middle" fill="#262626" font-weight="normal" textLength="29.19" lengthAdjust="spacingAndGlyphs" >0.001</text>
<line x1="88.90" y1="393.30" x2="88.90" y2="397.50" stroke="#000" stroke-width="1.5" />
<text x="88.90" y="412.50" font-size="10.8" text-anchor="middle" fill="#262626" font-weight="normal" textLength="22.70" lengthAdjust="spacingAndGlyphs" >0.01</text>
<line x1="117.00" y1="393.30" x2="117.00" y2="397.50" stroke="#000" stroke-width="1.5" />
<text x="117.00" y="412.50" font-size="10.8" text-anchor="middle" fill="#262626" font-weight="normal" textLength="16.21" lengthAdjust="spacingAndGlyphs" >0.1</text>
<line x1="145.10" y1="393.30" x2="145.10" y2="397.50" stroke="#000" stroke-width="1.5" />
<text x="145.10" y="412.50" font-size="10.8" text-anchor="middle" fill="#262626" font-weight="normal" textLength="6.49" lengthAdjust="spacingAndGlyphs" >1</text>
<line x1="173.20" y1="393.30" x2="173.20" y2="397.50" stroke="#000" stroke-width="1.5" />
<text x="173.20" y="412.50" font-size="10.8" text-anchor="middle" fill="#262626" font-weight="normal" textLength="12.97" lengthAdjust="spacingAndGlyphs" >10</text>
<line x1="201.30" y1="393.30" x2="201.30" y2="397.50" stroke="#000" stroke-width="1.5" />
<text x="201.30" y="412.50" font-size="10.8" text-anchor="middle" fill="#262626" font-weight="normal" textLength="19.46" lengthAdjust="spacingAndGlyphs" >100</text>
<line x1="229.40" y1="393.30" x2="229.40" y2="397.50" stroke="#000" stroke-width="1.5" />
<text x="229.40" y="412.50" font-size="10.8" text-anchor="middle" fill="#262626" font-weight="normal" textLength="25.95" lengthAdjust="spacingAndGlyphs" >1000</text>
<line x1="257.50" y1="393.30" x2="257.50" y2="397.50" stroke="#000" stroke-width="1.5" />
<text x="123.60" y="431.60" font-size="12.2" fill="#151515" stroke="#151515" stroke-width="0.5" textLength="40.40" lengthAdjust="spacingAndGlyphs">[Peptide]</text>
<text x="167.80" y="431.60" font-size="12.2" fill="#151515" stroke="#151515" stroke-width="0.5" textLength="24.60" lengthAdjust="spacingAndGlyphs">(μM)</text>
<text x="0" y="0" transform="translate(22.30,326.30) rotate(-90)" font-size="12.2" text-anchor="middle" fill="#151515" stroke="#151515" stroke-width="0.5" textLength="87.4" lengthAdjust="spacingAndGlyphs">Prothrombinase (%)</text>
<path d="M79.40,302.18 L79.90,302.20 L80.40,302.22 L80.90,302.24 L81.40,302.27 L81.90,302.29 L82.40,302.32 L82.90,302.34 L83.40,302.37 L83.90,302.40 L84.40,302.42 L84.90,302.45 L85.40,302.48 L85.90,302.52 L86.40,302.55 L86.90,302.58 L87.40,302.62 L87.90,302.65 L88.40,302.69 L88.90,302.73 L89.40,302.77 L89.90,302.81 L90.40,302.86 L90.90,302.90 L91.40,302.95 L91.90,303.00 L92.40,303.05 L92.90,303.10 L93.40,303.15 L93.90,303.21 L94.40,303.26 L94.90,303.32 L95.40,303.38 L95.90,303.45 L96.40,303.51 L96.90,303.58 L97.40,303.65 L97.90,303.72 L98.40,303.80 L98.90,303.87 L99.40,303.95 L99.90,304.04 L100.40,304.12 L100.90,304.21 L101.40,304.30 L101.90,304.39 L102.40,304.49 L102.90,304.59 L103.40,304.70 L103.90,304.80 L104.40,304.92 L104.90,305.03 L105.40,305.15 L105.90,305.27 L106.40,305.40 L106.90,305.53 L107.40,305.66 L107.90,305.80 L108.40,305.94 L108.90,306.09 L109.40,306.24 L109.90,306.40 L110.40,306.56 L110.90,306.73 L111.40,306.90 L111.90,307.08 L112.40,307.26 L112.90,307.45 L113.40,307.65 L113.90,307.85 L114.40,308.05 L114.90,308.26 L115.40,308.48 L115.90,308.71 L116.40,308.94 L116.90,309.18 L117.40,309.42 L117.90,309.67 L118.40,309.93 L118.90,310.20 L119.40,310.47 L119.90,310.75 L120.40,311.04 L120.90,311.33 L121.40,311.64 L121.90,311.95 L122.40,312.27 L122.90,312.59 L123.40,312.93 L123.90,313.27 L124.40,313.62 L124.90,313.98 L125.40,314.35 L125.90,314.73 L126.40,315.11 L126.90,315.51 L127.40,315.91 L127.90,316.32 L128.40,316.74 L128.90,317.17 L129.40,317.60 L129.90,318.05 L130.40,318.50 L130.90,318.96 L131.40,319.43 L131.90,319.91 L132.40,320.40 L132.90,320.89 L133.40,321.40 L133.90,321.91 L134.40,322.43 L134.90,322.95 L135.40,323.48 L135.90,324.03 L136.40,324.57 L136.90,325.13 L137.40,325.69 L137.90,326.25 L138.40,326.83 L138.90,327.41 L139.40,327.99 L139.90,328.58 L140.40,329.17 L140.90,329.77 L141.40,330.37 L141.90,330.98 L142.40,331.59 L142.90,332.20 L143.40,332.82 L143.90,333.44 L144.40,334.06 L144.90,334.68 L145.40,335.30 L145.90,335.93 L146.40,336.55 L146.90,337.17 L147.40,337.80 L147.90,338.42 L148.40,339.04 L148.90,339.66 L149.40,340.28 L149.90,340.90 L150.40,341.51 L150.90,342.12 L151.40,342.73 L151.90,343.33 L152.40,343.93 L152.90,344.52 L153.40,345.11 L153.90,345.69 L154.40,346.27 L154.90,346.85 L155.40,347.41 L155.90,347.97 L156.40,348.53 L156.90,349.07 L157.40,349.62 L157.90,350.15 L158.40,350.67 L158.90,351.19 L159.40,351.70 L159.90,352.21 L160.40,352.70 L160.90,353.19 L161.40,353.67 L161.90,354.14 L162.40,354.60 L162.90,355.05 L163.40,355.50 L163.90,355.93 L164.40,356.36 L164.90,356.78 L165.40,357.19 L165.90,357.59 L166.40,357.99 L166.90,358.37 L167.40,358.75 L167.90,359.12 L168.40,359.48 L168.90,359.83 L169.40,360.17 L169.90,360.51 L170.40,360.83 L170.90,361.15 L171.40,361.46 L171.90,361.77 L172.40,362.06 L172.90,362.35 L173.40,362.63 L173.90,362.90 L174.40,363.17 L174.90,363.43 L175.40,363.68 L175.90,363.92 L176.40,364.16 L176.90,364.39 L177.40,364.62 L177.90,364.84 L178.40,365.05 L178.90,365.25 L179.40,365.45 L179.90,365.65 L180.40,365.84 L180.90,366.02 L181.40,366.20 L181.90,366.37 L182.40,366.54 L182.90,366.70 L183.40,366.86 L183.90,367.01 L184.40,367.16 L184.90,367.30 L185.40,367.44 L185.90,367.57 L186.40,367.70 L186.90,367.83 L187.40,367.95 L187.90,368.07 L188.40,368.18 L188.90,368.30 L189.40,368.40 L189.90,368.51 L190.40,368.61 L190.90,368.71 L191.40,368.80 L191.90,368.89 L192.40,368.98" fill="none" stroke="#981a3a" stroke-width="2.0" stroke-linejoin="round" />
<path d="M94.00,291.60 L94.50,291.60 L95.00,291.60 L95.50,291.60 L96.00,291.60 L96.50,291.60 L97.00,291.60 L97.50,291.60 L98.00,291.60 L98.50,291.60 L99.00,291.60 L99.50,291.60 L100.00,291.61 L100.50,291.61 L101.00,291.61 L101.50,291.61 L102.00,291.61 L102.50,291.61 L103.00,291.61 L103.50,291.61 L104.00,291.61 L104.50,291.61 L105.00,291.61 L105.50,291.61 L106.00,291.61 L106.50,291.61 L107.00,291.61 L107.50,291.61 L108.00,291.61 L108.50,291.61 L109.00,291.61 L109.50,291.61 L110.00,291.61 L110.50,291.61 L111.00,291.61 L111.50,291.61 L112.00,291.61 L112.50,291.61 L113.00,291.62 L113.50,291.62 L114.00,291.62 L114.50,291.62 L115.00,291.62 L115.50,291.62 L116.00,291.62 L116.50,291.62 L117.00,291.62 L117.50,291.62 L118.00,291.62 L118.50,291.62 L119.00,291.62 L119.50,291.63 L120.00,291.63 L120.50,291.63 L121.00,291.63 L121.50,291.63 L122.00,291.63 L122.50,291.63 L123.00,291.63 L123.50,291.64 L124.00,291.64 L124.50,291.64 L125.00,291.64 L125.50,291.64 L126.00,291.64 L126.50,291.65 L127.00,291.65 L127.50,291.65 L128.00,291.65 L128.50,291.65 L129.00,291.66 L129.50,291.66 L130.00,291.66 L130.50,291.66 L131.00,291.67 L131.50,291.67 L132.00,291.67 L132.50,291.68 L133.00,291.68 L133.50,291.68 L134.00,291.69 L134.50,291.69 L135.00,291.69 L135.50,291.70 L136.00,291.70 L136.50,291.71 L137.00,291.71 L137.50,291.72 L138.00,291.72 L138.50,291.73 L139.00,291.73 L139.50,291.74 L140.00,291.74 L140.50,291.75 L141.00,291.76 L141.50,291.76 L142.00,291.77 L142.50,291.78 L143.00,291.78 L143.50,291.79 L144.00,291.80 L144.50,291.81 L145.00,291.82 L145.50,291.83 L146.00,291.84 L146.50,291.85 L147.00,291.86 L147.50,291.87 L148.00,291.88 L148.50,291.89 L149.00,291.90 L149.50,291.92 L150.00,291.93 L150.50,291.94 L151.00,291.96 L151.50,291.97 L152.00,291.99 L152.50,292.00 L153.00,292.02 L153.50,292.04 L154.00,292.06 L154.50,292.08 L155.00,292.10 L155.50,292.12 L156.00,292.14 L156.50,292.16 L157.00,292.19 L157.50,292.21 L158.00,292.24 L158.50,292.26 L159.00,292.29 L159.50,292.32 L160.00,292.35 L160.50,292.38 L161.00,292.42 L161.50,292.45 L162.00,292.49 L162.50,292.52 L163.00,292.56 L163.50,292.60 L164.00,292.64 L164.50,292.69 L165.00,292.73 L165.50,292.78 L166.00,292.83 L166.50,292.88 L167.00,292.94 L167.50,292.99 L168.00,293.05 L168.50,293.11 L169.00,293.17 L169.50,293.24 L170.00,293.30 L170.50,293.38 L171.00,293.45 L171.50,293.53 L172.00,293.60 L172.50,293.69 L173.00,293.77 L173.50,293.86 L174.00,293.96 L174.50,294.05 L175.00,294.15 L175.50,294.26 L176.00,294.37 L176.50,294.48 L177.00,294.60 L177.50,294.72 L178.00,294.84 L178.50,294.98 L179.00,295.11 L179.50,295.25 L180.00,295.40 L180.50,295.55 L181.00,295.71 L181.50,295.87 L182.00,296.04 L182.50,296.22 L183.00,296.40 L183.50,296.59 L184.00,296.79 L184.50,296.99 L185.00,297.20 L185.50,297.42 L186.00,297.65 L186.50,297.88 L187.00,298.12 L187.50,298.37 L188.00,298.63 L188.50,298.90 L189.00,299.17 L189.50,299.46 L190.00,299.75 L190.50,300.06 L191.00,300.37 L191.50,300.69 L192.00,301.03 L192.50,301.37 L193.00,301.73 L193.50,302.09 L194.00,302.47 L194.50,302.85 L195.00,303.25 L195.50,303.66 L196.00,304.08 L196.50,304.51 L197.00,304.95 L197.50,305.40 L198.00,305.87 L198.50,306.35 L199.00,306.83 L199.50,307.33 L200.00,307.84 L200.50,308.36 L201.00,308.90 L201.50,309.44 L202.00,310.00 L202.50,310.56 L203.00,311.14 L203.50,311.72 L204.00,312.32 L204.50,312.93 L205.00,313.54 L205.50,314.17 L206.00,314.80 L206.50,315.45 L207.00,316.10 L207.50,316.76 L208.00,317.42 L208.50,318.10 L209.00,318.78 L209.50,319.46 L210.00,320.15 L210.50,320.85 L211.00,321.55 L211.50,322.25 L212.00,322.96 L212.50,323.67 L213.00,324.38 L213.50,325.09 L214.00,325.80 L214.50,326.51 L215.00,327.22 L215.50,327.93" fill="none" stroke="#981a3a" stroke-width="2.0" stroke-linejoin="round" />
<line x1="79.40" y1="288.40" x2="79.40" y2="324.70" stroke="#000" stroke-width="1.8" />
<line x1="77.60" y1="288.40" x2="81.20" y2="288.40" stroke="#000" stroke-width="1.8" />
<line x1="77.60" y1="324.70" x2="81.20" y2="324.70" stroke="#000" stroke-width="1.8" />
<line x1="99.50" y1="293.90" x2="99.50" y2="311.70" stroke="#000" stroke-width="1.8" />
<line x1="97.70" y1="293.90" x2="101.30" y2="293.90" stroke="#000" stroke-width="1.8" />
<line x1="97.70" y1="311.70" x2="101.30" y2="311.70" stroke="#000" stroke-width="1.8" />
<line x1="108.00" y1="293.90" x2="108.00" y2="315.00" stroke="#000" stroke-width="1.8" />
<line x1="106.20" y1="293.90" x2="109.80" y2="293.90" stroke="#000" stroke-width="1.8" />
<line x1="106.20" y1="315.00" x2="109.80" y2="315.00" stroke="#000" stroke-width="1.8" />
<line x1="127.40" y1="304.60" x2="127.40" y2="334.40" stroke="#000" stroke-width="1.8" />
<line x1="125.60" y1="304.60" x2="129.20" y2="304.60" stroke="#000" stroke-width="1.8" />
<line x1="125.60" y1="334.40" x2="129.20" y2="334.40" stroke="#000" stroke-width="1.8" />
<line x1="136.20" y1="308.50" x2="136.20" y2="337.60" stroke="#000" stroke-width="1.8" />
<line x1="134.40" y1="308.50" x2="138.00" y2="308.50" stroke="#000" stroke-width="1.8" />
<line x1="134.40" y1="337.60" x2="138.00" y2="337.60" stroke="#000" stroke-width="1.8" />
<line x1="155.60" y1="332.80" x2="155.60" y2="359.30" stroke="#000" stroke-width="1.8" />
<line x1="153.80" y1="332.80" x2="157.40" y2="332.80" stroke="#000" stroke-width="1.8" />
<line x1="153.80" y1="359.30" x2="157.40" y2="359.30" stroke="#000" stroke-width="1.8" />
<line x1="163.70" y1="346.70" x2="163.70" y2="365.20" stroke="#000" stroke-width="1.8" />
<line x1="161.90" y1="346.70" x2="165.50" y2="346.70" stroke="#000" stroke-width="1.8" />
<line x1="161.90" y1="365.20" x2="165.50" y2="365.20" stroke="#000" stroke-width="1.8" />
<line x1="183.80" y1="353.20" x2="183.80" y2="374.20" stroke="#000" stroke-width="1.8" />
<line x1="182.00" y1="353.20" x2="185.60" y2="353.20" stroke="#000" stroke-width="1.8" />
<line x1="182.00" y1="374.20" x2="185.60" y2="374.20" stroke="#000" stroke-width="1.8" />
<line x1="122.50" y1="285.80" x2="122.50" y2="299.70" stroke="#000" stroke-width="1.8" />
<line x1="120.70" y1="285.80" x2="124.30" y2="285.80" stroke="#000" stroke-width="1.8" />
<line x1="120.70" y1="299.70" x2="124.30" y2="299.70" stroke="#000" stroke-width="1.8" />
<line x1="130.60" y1="287.50" x2="130.60" y2="296.00" stroke="#000" stroke-width="1.8" />
<line x1="128.80" y1="287.50" x2="132.40" y2="287.50" stroke="#000" stroke-width="1.8" />
<line x1="128.80" y1="296.00" x2="132.40" y2="296.00" stroke="#000" stroke-width="1.8" />
<line x1="150.70" y1="287.40" x2="150.70" y2="298.10" stroke="#000" stroke-width="1.8" />
<line x1="148.90" y1="287.40" x2="152.50" y2="287.40" stroke="#000" stroke-width="1.8" />
<line x1="148.90" y1="298.10" x2="152.50" y2="298.10" stroke="#000" stroke-width="1.8" />
<line x1="158.80" y1="273.80" x2="158.80" y2="302.60" stroke="#000" stroke-width="1.8" />
<line x1="157.00" y1="273.80" x2="160.60" y2="273.80" stroke="#000" stroke-width="1.8" />
<line x1="157.00" y1="302.60" x2="160.60" y2="302.60" stroke="#000" stroke-width="1.8" />
<line x1="179.20" y1="288.00" x2="179.20" y2="298.10" stroke="#000" stroke-width="1.8" />
<line x1="177.40" y1="288.00" x2="181.00" y2="288.00" stroke="#000" stroke-width="1.8" />
<line x1="177.40" y1="298.10" x2="181.00" y2="298.10" stroke="#000" stroke-width="1.8" />
<rect x="76.90" y="304.30" width="5.0" height="5.0" fill="#9c1a3e"/>
<rect x="97.00" y="300.50" width="5.0" height="5.0" fill="#9c1a3e"/>
<rect x="105.50" y="301.80" width="5.0" height="5.0" fill="#9c1a3e"/>
<rect x="124.90" y="317.30" width="5.0" height="5.0" fill="#9c1a3e"/>
<rect x="133.70" y="320.50" width="5.0" height="5.0" fill="#9c1a3e"/>
<rect x="153.10" y="343.90" width="5.0" height="5.0" fill="#9c1a3e"/>
<rect x="161.20" y="353.00" width="5.0" height="5.0" fill="#9c1a3e"/>
<rect x="169.90" y="365.90" width="5.0" height="5.0" fill="#9c1a3e"/>
<rect x="181.30" y="361.70" width="5.0" height="5.0" fill="#9c1a3e"/>
<rect x="189.70" y="366.90" width="5.0" height="5.0" fill="#9c1a3e"/>
<circle cx="94.00" cy="291.60" r="2.65" fill="#fff" stroke="#9c1a3e" stroke-width="1.55"/>
<circle cx="102.80" cy="298.70" r="2.65" fill="#fff" stroke="#9c1a3e" stroke-width="1.55"/>
<circle cx="122.50" cy="291.60" r="2.65" fill="#fff" stroke="#9c1a3e" stroke-width="1.55"/>
<circle cx="130.60" cy="291.60" r="2.65" fill="#fff" stroke="#9c1a3e" stroke-width="1.55"/>
<circle cx="150.70" cy="292.90" r="2.65" fill="#fff" stroke="#9c1a3e" stroke-width="1.55"/>
<circle cx="158.80" cy="288.40" r="2.65" fill="#fff" stroke="#9c1a3e" stroke-width="1.55"/>
<circle cx="179.20" cy="293.20" r="2.65" fill="#fff" stroke="#9c1a3e" stroke-width="1.55"/>
<circle cx="187.30" cy="299.40" r="2.65" fill="#fff" stroke="#9c1a3e" stroke-width="1.55"/>
<circle cx="207.00" cy="317.80" r="2.65" fill="#fff" stroke="#9c1a3e" stroke-width="1.55"/>
<circle cx="215.40" cy="327.20" r="2.65" fill="#fff" stroke="#9c1a3e" stroke-width="1.55"/>
<text x="193.80" y="296.50" font-size="11" text-anchor="start" fill="#2a2a2a" font-weight="normal" >AAKA</text>
<text x="113.00" y="362.30" font-size="11" text-anchor="start" fill="#2a2a2a" font-weight="normal" textLength="21.60" lengthAdjust="spacingAndGlyphs" >LIKT</text>
<text x="272.2" y="244.5" font-size="16.4" font-weight="bold" fill="#000" stroke="#000" stroke-width="0.7">D</text>
<rect x="315.6" y="261.7" width="193.89999999999998" height="131.10000000000002" fill="none" stroke="#000" stroke-width="1.95"/>
<line x1="310.50" y1="392.80" x2="315.60" y2="392.80" stroke="#000" stroke-width="1.6" />
<text x="305.80" y="396.70" font-size="10.8" text-anchor="end" fill="#262626" font-weight="normal" textLength="6.49" lengthAdjust="spacingAndGlyphs" >0</text>
<line x1="310.50" y1="374.07" x2="315.60" y2="374.07" stroke="#000" stroke-width="1.6" />
<text x="305.80" y="377.97" font-size="10.8" text-anchor="end" fill="#262626" font-weight="normal" textLength="12.97" lengthAdjust="spacingAndGlyphs" >10</text>
<line x1="310.50" y1="355.34" x2="315.60" y2="355.34" stroke="#000" stroke-width="1.6" />
<text x="305.80" y="359.24" font-size="10.8" text-anchor="end" fill="#262626" font-weight="normal" textLength="12.97" lengthAdjust="spacingAndGlyphs" >20</text>
<line x1="310.50" y1="336.61" x2="315.60" y2="336.61" stroke="#000" stroke-width="1.6" />
<text x="305.80" y="340.51" font-size="10.8" text-anchor="end" fill="#262626" font-weight="normal" textLength="12.97" lengthAdjust="spacingAndGlyphs" >30</text>
<line x1="310.50" y1="317.89" x2="315.60" y2="317.89" stroke="#000" stroke-width="1.6" />
<text x="305.80" y="321.79" font-size="10.8" text-anchor="end" fill="#262626" font-weight="normal" textLength="12.97" lengthAdjust="spacingAndGlyphs" >40</text>
<line x1="310.50" y1="299.16" x2="315.60" y2="299.16" stroke="#000" stroke-width="1.6" />
<text x="305.80" y="303.06" font-size="10.8" text-anchor="end" fill="#262626" font-weight="normal" textLength="12.97" lengthAdjust="spacingAndGlyphs" >50</text>
<line x1="310.50" y1="280.43" x2="315.60" y2="280.43" stroke="#000" stroke-width="1.6" />
<text x="305.80" y="284.33" font-size="10.8" text-anchor="end" fill="#262626" font-weight="normal" textLength="12.97" lengthAdjust="spacingAndGlyphs" >60</text>
<line x1="310.50" y1="261.70" x2="315.60" y2="261.70" stroke="#000" stroke-width="1.6" />
<text x="305.80" y="265.60" font-size="10.8" text-anchor="end" fill="#262626" font-weight="normal" textLength="12.97" lengthAdjust="spacingAndGlyphs" >70</text>
<line x1="315.60" y1="392.80" x2="315.60" y2="397.30" stroke="#000" stroke-width="1.5" />
<text x="315.60" y="412.50" font-size="10.8" text-anchor="middle" fill="#262626" font-weight="normal" textLength="6.49" lengthAdjust="spacingAndGlyphs" >0</text>
<line x1="337.14" y1="392.80" x2="337.14" y2="395.40" stroke="#000" stroke-width="1.5" />
<line x1="358.69" y1="392.80" x2="358.69" y2="397.30" stroke="#000" stroke-width="1.5" />
<text x="358.69" y="412.50" font-size="10.8" text-anchor="middle" fill="#262626" font-weight="normal" textLength="12.97" lengthAdjust="spacingAndGlyphs" >20</text>
<line x1="380.23" y1="392.80" x2="380.23" y2="395.40" stroke="#000" stroke-width="1.5" />
<line x1="401.78" y1="392.80" x2="401.78" y2="397.30" stroke="#000" stroke-width="1.5" />
<text x="401.78" y="412.50" font-size="10.8" text-anchor="middle" fill="#262626" font-weight="normal" textLength="12.97" lengthAdjust="spacingAndGlyphs" >40</text>
<line x1="423.32" y1="392.80" x2="423.32" y2="395.40" stroke="#000" stroke-width="1.5" />
<line x1="444.87" y1="392.80" x2="444.87" y2="397.30" stroke="#000" stroke-width="1.5" />
<text x="444.87" y="412.50" font-size="10.8" text-anchor="middle" fill="#262626" font-weight="normal" textLength="12.97" lengthAdjust="spacingAndGlyphs" >60</text>
<line x1="466.41" y1="392.80" x2="466.41" y2="395.40" stroke="#000" stroke-width="1.5" />
<line x1="487.96" y1="392.80" x2="487.96" y2="397.30" stroke="#000" stroke-width="1.5" />
<text x="487.96" y="412.50" font-size="10.8" text-anchor="middle" fill="#262626" font-weight="normal" textLength="12.97" lengthAdjust="spacingAndGlyphs" >80</text>
<line x1="509.50" y1="392.80" x2="509.50" y2="395.40" stroke="#000" stroke-width="1.5" />
<text x="388.50" y="431.60" font-size="12.2" fill="#151515" stroke="#151515" stroke-width="0.5" textLength="48.10" lengthAdjust="spacingAndGlyphs">Time (min)</text>
<text x="0" y="0" transform="translate(283.40,326.50) rotate(-90)" font-size="12.2" text-anchor="middle" fill="#151515" stroke="#151515" stroke-width="0.5" textLength="63.5" lengthAdjust="spacingAndGlyphs">Thrombin (nM)</text>
<path d="M315.60,392.60 L316.50,392.60 L317.40,392.60 L318.30,392.60 L319.20,392.60 L320.10,392.60 L321.00,392.60 L321.90,392.60 L322.80,392.60 L323.70,392.60 L324.60,392.60 L325.50,392.60 L326.40,392.60 L327.30,392.60 L328.20,392.60 L329.10,392.60 L330.00,392.60 L330.90,392.60 L331.80,392.60 L332.70,392.60 L333.60,392.60 L334.50,392.60 L335.40,392.60 L336.30,392.60 L337.20,392.60 L338.10,392.60 L339.00,392.60 L339.90,392.60 L340.80,392.60 L341.70,392.60 L342.60,392.60 L343.50,392.60 L344.40,392.60 L345.30,392.60 L346.20,392.60 L347.10,392.60 L348.00,392.60 L348.90,392.60 L349.80,392.60 L350.70,392.60 L351.60,392.60 L352.50,392.60 L353.40,392.57 L354.30,392.51 L355.20,392.43 L356.10,392.32 L357.00,392.20 L357.90,392.05 L358.80,391.88 L359.70,391.69 L360.60,391.49 L361.50,391.28 L362.40,391.05 L363.30,390.81 L364.20,390.55 L365.10,390.29 L366.00,390.03 L366.90,389.75 L367.80,389.47 L368.70,389.14 L369.60,388.75 L370.50,388.30 L371.40,387.81 L372.30,387.26 L373.20,386.67 L374.10,386.04 L375.00,385.36 L375.90,384.65 L376.80,383.90 L377.70,383.12 L378.60,382.30 L379.50,381.46 L380.40,380.60 L381.30,379.71 L382.20,378.80 L383.10,377.84 L384.00,376.78 L384.90,375.62 L385.80,374.36 L386.70,373.02 L387.60,371.59 L388.50,370.09 L389.40,368.51 L390.30,366.87 L391.20,365.16 L392.10,363.40 L393.00,361.58 L393.90,359.67 L394.80,357.65 L395.70,355.47 L396.60,353.13 L397.50,350.59 L398.40,347.81 L399.30,344.78 L400.20,341.41 L401.10,337.06 L402.00,331.86 L402.90,325.63 L403.80,317.92 L404.70,310.93 L405.60,305.74 L406.50,301.26 L407.40,297.31 L408.30,293.63 L409.20,290.12 L410.10,286.97 L411.00,284.35 L411.90,282.28 L412.80,280.32 L413.70,278.80 L414.60,278.20 L415.50,278.65 L416.40,279.76 L417.30,281.18 L418.20,282.90 L419.10,285.37 L420.00,288.36 L420.90,291.62 L421.80,294.88 L422.70,297.90 L423.60,300.65 L424.50,303.33 L425.40,305.98 L426.30,308.68 L427.20,311.48 L428.10,314.42 L429.00,317.62 L429.90,321.19 L430.80,324.96 L431.70,328.72 L432.60,332.25 L433.50,335.44 L434.40,338.69 L435.30,341.16 L436.20,343.93 L437.10,346.72 L438.00,348.65 L438.90,351.93 L439.80,355.00 L440.70,358.30 L441.60,359.03 L442.50,362.01 L443.40,363.22 L444.30,367.66 L445.20,368.99 L446.10,367.82 L447.00,373.48 L447.90,374.73 L448.80,374.49 L449.70,375.37 L450.60,374.22 L451.50,374.45 L452.40,377.62 L453.30,376.23 L454.20,377.54 L455.10,378.45 L456.00,378.12 L456.90,380.73 L457.80,381.24 L458.70,383.69 L459.60,382.78 L460.50,383.90 L461.40,383.77 L462.30,384.99 L463.20,384.47 L464.10,384.01 L465.00,387.63 L465.90,387.92 L466.80,387.50 L467.70,387.17 L468.60,385.63 L469.50,385.49 L470.40,386.01 L471.30,385.23 L472.20,388.64 L473.10,387.15 L474.00,389.38 L474.90,387.41 L475.80,390.18 L476.70,389.78 L477.60,385.97 L478.50,387.00 L479.40,390.29 L480.30,388.32 L481.20,390.73 L482.10,388.11 L483.00,386.67 L483.90,389.29 L484.80,390.03 L485.70,387.74 L486.60,386.95 L487.50,388.13 L488.40,391.08 L489.30,390.18 L490.20,387.27 L491.10,387.91 L492.00,387.28 L492.90,387.13 L493.80,390.55 L494.70,387.74 L495.60,389.53 L496.50,389.04 L497.40,387.89 L498.30,390.41 L499.20,387.67 L500.10,390.05 L501.00,387.64 L501.90,389.06 L502.80,388.12 L503.70,388.40 L504.60,391.63 L505.50,390.87 L506.40,388.59 L507.30,391.26 L508.20,388.17 L509.10,389.01" fill="none" stroke="#981a3a" stroke-width="1.5" stroke-linejoin="round" />
<path d="M315.60,392.60 L316.50,392.60 L317.40,392.60 L318.30,392.60 L319.20,392.60 L320.10,392.60 L321.00,392.60 L321.90,392.60 L322.80,392.60 L323.70,392.60 L324.60,392.60 L325.50,392.60 L326.40,392.60 L327.30,392.60 L328.20,392.60 L329.10,392.60 L330.00,392.60 L330.90,392.60 L331.80,392.60 L332.70,392.60 L333.60,392.60 L334.50,392.60 L335.40,392.60 L336.30,392.60 L337.20,392.60 L338.10,392.60 L339.00,392.60 L339.90,392.60 L340.80,392.60 L341.70,392.60 L342.60,392.60 L343.50,392.60 L344.40,392.60 L345.30,392.60 L346.20,392.60 L347.10,392.60 L348.00,392.60 L348.90,392.60 L349.80,392.60 L350.70,392.60 L351.60,392.60 L352.50,392.60 L353.40,392.57 L354.30,392.52 L355.20,392.44 L356.10,392.34 L357.00,392.23 L357.90,392.09 L358.80,391.93 L359.70,391.76 L360.60,391.57 L361.50,391.37 L362.40,391.16 L363.30,390.93 L364.20,390.69 L365.10,390.44 L366.00,390.19 L366.90,389.93 L367.80,389.66 L368.70,389.37 L369.60,389.02 L370.50,388.62 L371.40,388.16 L372.30,387.65 L373.20,387.09 L374.10,386.48 L375.00,385.83 L375.90,385.14 L376.80,384.41 L377.70,383.65 L378.60,382.86 L379.50,382.03 L380.40,381.18 L381.30,380.31 L382.20,379.41 L383.10,378.49 L384.00,377.50 L384.90,376.40 L385.80,375.21 L386.70,373.92 L387.60,372.55 L388.50,371.10 L389.40,369.57 L390.30,367.97 L391.20,366.31 L392.10,364.58 L393.00,362.80 L393.90,360.96 L394.80,359.01 L395.70,356.94 L396.60,354.71 L397.50,352.31 L398.40,349.69 L399.30,346.83 L400.20,343.71 L401.10,340.08 L402.00,335.41 L402.90,330.00 L403.80,323.32 L404.70,315.73 L405.60,308.89 L406.50,302.64 L407.40,297.38 L408.30,293.38 L409.20,289.85 L410.10,286.83 L411.00,284.33 L411.90,282.28 L412.80,280.32 L413.70,278.80 L414.60,278.20 L415.50,278.65 L416.40,279.76 L417.30,281.18 L418.20,282.91 L419.10,285.42 L420.00,288.45 L420.90,291.73 L421.80,294.97 L422.70,297.90 L423.60,300.48 L424.50,302.91 L425.40,305.27 L426.30,307.63 L427.20,310.07 L428.10,312.66 L429.00,315.47 L429.90,318.68 L430.80,322.32 L431.70,326.14 L432.60,329.90 L433.50,333.42 L434.40,336.54 L435.30,338.97 L436.20,341.48 L437.10,344.61 L438.00,347.05 L438.90,350.77 L439.80,353.27 L440.70,355.90 L441.60,358.61 L442.50,361.59 L443.40,362.11 L444.30,365.05 L445.20,365.71 L446.10,370.51 L447.00,368.27 L447.90,373.19 L448.80,371.05 L449.70,375.01 L450.60,374.42 L451.50,375.66 L452.40,378.53 L453.30,375.54 L454.20,376.47 L455.10,381.10 L456.00,379.89 L456.90,378.61 L457.80,383.35 L458.70,383.77 L459.60,380.53 L460.50,382.53 L461.40,381.75 L462.30,383.07 L463.20,384.95 L464.10,383.25 L465.00,386.04 L465.90,383.38 L466.80,384.23 L467.70,387.48 L468.60,385.84 L469.50,386.19 L470.40,387.26 L471.30,386.95 L472.20,386.75 L473.10,385.32 L474.00,388.71 L474.90,389.99 L475.80,390.17 L476.70,388.86 L477.60,387.55 L478.50,387.66 L479.40,389.23 L480.30,389.22 L481.20,386.71 L482.10,387.32 L483.00,387.97 L483.90,388.71 L484.80,390.14 L485.70,388.76 L486.60,386.64 L487.50,390.35 L488.40,388.59 L489.30,389.05 L490.20,387.73 L491.10,388.71 L492.00,388.57 L492.90,390.38 L493.80,387.34 L494.70,389.43 L495.60,387.75 L496.50,390.16 L497.40,387.16 L498.30,388.29 L499.20,388.63 L500.10,390.00 L501.00,387.33 L501.90,389.23 L502.80,388.09 L503.70,388.44 L504.60,389.35 L505.50,391.58 L506.40,389.39 L507.30,391.59 L508.20,387.97 L509.10,391.45" fill="none" stroke="#981a3a" stroke-width="1.1" stroke-linejoin="round" stroke-dasharray="3,1.5"/>
<path d="M315.60,392.60 L316.50,392.60 L317.40,392.60 L318.30,392.60 L319.20,392.60 L320.10,392.60 L321.00,392.60 L321.90,392.60 L322.80,392.60 L323.70,392.60 L324.60,392.60 L325.50,392.60 L326.40,392.60 L327.30,392.60 L328.20,392.60 L329.10,392.60 L330.00,392.60 L330.90,392.60 L331.80,392.60 L332.70,392.60 L333.60,392.60 L334.50,392.60 L335.40,392.60 L336.30,392.60 L337.20,392.60 L338.10,392.60 L339.00,392.60 L339.90,392.60 L340.80,392.60 L341.70,392.60 L342.60,392.60 L343.50,392.60 L344.40,392.60 L345.30,392.60 L346.20,392.60 L347.10,392.60 L348.00,392.60 L348.90,392.60 L349.80,392.60 L350.70,392.60 L351.60,392.60 L352.50,392.60 L353.40,392.60 L354.30,392.60 L355.20,392.60 L356.10,392.60 L357.00,392.59 L357.90,392.56 L358.80,392.52 L359.70,392.46 L360.60,392.39 L361.50,392.31 L362.40,392.21 L363.30,392.09 L364.20,391.97 L365.10,391.83 L366.00,391.68 L366.90,391.52 L367.80,391.35 L368.70,391.17 L369.60,390.98 L370.50,390.77 L371.40,390.56 L372.30,390.35 L373.20,390.12 L374.10,389.89 L375.00,389.65 L375.90,389.40 L376.80,389.11 L377.70,388.76 L378.60,388.34 L379.50,387.85 L380.40,387.31 L381.30,386.70 L382.20,386.04 L383.10,385.33 L384.00,384.56 L384.90,383.75 L385.80,382.89 L386.70,381.99 L387.60,381.04 L388.50,380.06 L389.40,379.05 L390.30,377.95 L391.20,376.66 L392.10,375.16 L393.00,373.50 L393.90,371.68 L394.80,369.73 L395.70,367.67 L396.60,365.52 L397.50,363.30 L398.40,360.87 L399.30,358.21 L400.20,355.33 L401.10,352.27 L402.00,349.04 L402.90,345.68 L403.80,342.21 L404.70,338.69 L405.60,334.77 L406.50,330.00 L407.40,322.68 L408.30,314.12 L409.20,307.88 L410.10,303.14 L411.00,299.04 L411.90,295.19 L412.80,291.41 L413.70,287.94 L414.60,285.04 L415.50,282.80 L416.40,280.66 L417.30,278.77 L418.20,277.40 L419.10,276.81 L420.00,277.86 L420.90,280.61 L421.80,283.40 L422.70,285.61 L423.60,287.76 L424.50,289.88 L425.40,292.03 L426.30,294.24 L427.20,296.56 L428.10,299.00 L429.00,301.55 L429.90,304.18 L430.80,306.92 L431.70,309.76 L432.60,312.67 L433.50,315.89 L434.40,319.31 L435.30,323.21 L436.20,326.24 L437.10,329.91 L438.00,333.05 L438.90,336.17 L439.80,340.20 L440.70,341.43 L441.60,345.20 L442.50,346.84 L443.40,349.69 L444.30,352.87 L445.20,357.32 L446.10,359.21 L447.00,359.11 L447.90,362.55 L448.80,363.86 L449.70,368.98 L450.60,370.36 L451.50,371.87 L452.40,373.37 L453.30,374.27 L454.20,376.34 L455.10,376.62 L456.00,375.08 L456.90,378.66 L457.80,377.78 L458.70,379.75 L459.60,379.56 L460.50,379.60 L461.40,379.93 L462.30,380.85 L463.20,380.92 L464.10,380.60 L465.00,384.39 L465.90,384.83 L466.80,386.19 L467.70,385.29 L468.60,385.07 L469.50,386.32 L470.40,383.84 L471.30,386.66 L472.20,385.92 L473.10,385.00 L474.00,385.43 L474.90,387.18 L475.80,386.21 L476.70,387.39 L477.60,388.28 L478.50,387.50 L479.40,386.43 L480.30,388.20 L481.20,387.10 L482.10,387.16 L483.00,387.03 L483.90,387.88 L484.80,386.58 L485.70,389.30 L486.60,390.74 L487.50,388.19 L488.40,389.76 L489.30,390.79 L490.20,386.74 L491.10,387.23 L492.00,390.33 L492.90,390.51 L493.80,389.63 L494.70,387.46 L495.60,388.66 L496.50,390.78 L497.40,390.89 L498.30,390.54 L499.20,387.80 L500.10,390.82 L501.00,388.63 L501.90,390.22 L502.80,387.57 L503.70,391.43 L504.60,389.75 L505.50,390.30 L506.40,387.96 L507.30,389.83 L508.20,389.67 L509.10,389.72" fill="none" stroke="#981a3a" stroke-width="1.5" stroke-linejoin="round" />
<path d="M315.60,392.60 L316.50,392.60 L317.40,392.60 L318.30,392.60 L319.20,392.60 L320.10,392.60 L321.00,392.60 L321.90,392.60 L322.80,392.60 L323.70,392.60 L324.60,392.60 L325.50,392.60 L326.40,392.60 L327.30,392.60 L328.20,392.60 L329.10,392.60 L330.00,392.60 L330.90,392.60 L331.80,392.60 L332.70,392.60 L333.60,392.60 L334.50,392.60 L335.40,392.60 L336.30,392.60 L337.20,392.60 L338.10,392.60 L339.00,392.60 L339.90,392.60 L340.80,392.60 L341.70,392.60 L342.60,392.60 L343.50,392.60 L344.40,392.60 L345.30,392.60 L346.20,392.60 L347.10,392.60 L348.00,392.60 L348.90,392.60 L349.80,392.60 L350.70,392.60 L351.60,392.60 L352.50,392.60 L353.40,392.60 L354.30,392.60 L355.20,392.60 L356.10,392.60 L357.00,392.59 L357.90,392.56 L358.80,392.52 L359.70,392.46 L360.60,392.39 L361.50,392.31 L362.40,392.21 L363.30,392.09 L364.20,391.97 L365.10,391.83 L366.00,391.68 L366.90,391.52 L367.80,391.35 L368.70,391.17 L369.60,390.98 L370.50,390.77 L371.40,390.56 L372.30,390.35 L373.20,390.12 L374.10,389.89 L375.00,389.65 L375.90,389.40 L376.80,389.11 L377.70,388.76 L378.60,388.34 L379.50,387.85 L380.40,387.31 L381.30,386.70 L382.20,386.04 L383.10,385.33 L384.00,384.56 L384.90,383.75 L385.80,382.89 L386.70,381.99 L387.60,381.04 L388.50,380.06 L389.40,379.05 L390.30,377.95 L391.20,376.66 L392.10,375.16 L393.00,373.50 L393.90,371.68 L394.80,369.73 L395.70,367.67 L396.60,365.52 L397.50,363.30 L398.40,360.87 L399.30,358.21 L400.20,355.33 L401.10,352.27 L402.00,349.04 L402.90,345.68 L403.80,342.21 L404.70,338.69 L405.60,334.77 L406.50,330.00 L407.40,322.68 L408.30,314.12 L409.20,307.88 L410.10,303.14 L411.00,299.04 L411.90,295.18 L412.80,291.33 L413.70,287.80 L414.60,284.95 L415.50,282.95 L416.40,281.12 L417.30,279.47 L418.20,278.12 L419.10,277.19 L420.00,276.80 L420.90,277.86 L421.80,280.61 L422.70,283.40 L423.60,285.61 L424.50,287.76 L425.40,289.88 L426.30,292.03 L427.20,294.24 L428.10,296.56 L429.00,299.00 L429.90,301.55 L430.80,304.18 L431.70,306.92 L432.60,309.69 L433.50,312.81 L434.40,315.91 L435.30,319.62 L436.20,322.56 L437.10,326.26 L438.00,330.76 L438.90,334.04 L439.80,336.28 L440.70,340.13 L441.60,342.11 L442.50,346.00 L443.40,346.42 L444.30,349.37 L445.20,354.75 L446.10,355.34 L447.00,357.64 L447.90,362.74 L448.80,364.19 L449.70,363.87 L450.60,367.50 L451.50,369.68 L452.40,368.92 L453.30,372.57 L454.20,371.41 L455.10,373.52 L456.00,373.36 L456.90,374.84 L457.80,379.25 L458.70,377.39 L459.60,380.83 L460.50,378.99 L461.40,380.42 L462.30,382.27 L463.20,382.03 L464.10,379.99 L465.00,382.77 L465.90,383.54 L466.80,381.99 L467.70,382.09 L468.60,386.13 L469.50,384.88 L470.40,383.77 L471.30,385.30 L472.20,384.55 L473.10,387.55 L474.00,386.49 L474.90,384.96 L475.80,388.54 L476.70,385.45 L477.60,386.57 L478.50,385.62 L479.40,389.08 L480.30,386.35 L481.20,388.36 L482.10,386.44 L483.00,388.29 L483.90,389.29 L484.80,388.65 L485.70,388.34 L486.60,388.53 L487.50,388.36 L488.40,389.14 L489.30,386.89 L490.20,388.68 L491.10,387.63 L492.00,390.56 L492.90,390.94 L493.80,386.96 L494.70,387.35 L495.60,389.96 L496.50,389.39 L497.40,386.88 L498.30,390.06 L499.20,391.19 L500.10,388.81 L501.00,388.49 L501.90,389.53 L502.80,391.25 L503.70,388.16 L504.60,388.35 L505.50,387.84 L506.40,389.87 L507.30,389.15 L508.20,388.17 L509.10,388.78" fill="none" stroke="#981a3a" stroke-width="1.1" stroke-linejoin="round" stroke-dasharray="1.2,1"/>
<text x="319.00" y="275.20" font-size="11" text-anchor="start" fill="#2a2a2a" font-weight="normal" >AAKA</text>
<text x="365.70" y="284.60" font-size="11" text-anchor="start" fill="#2a2a2a" font-weight="normal" >10 μM</text>
<line x1="390.70" y1="287.90" x2="402.01" y2="291.27" stroke="#111" stroke-width="1.6" />
<path d="M406.80,292.70 L400.79,293.62 L402.27,288.64 Z" fill="#111"/>
<text x="337.80" y="305.40" font-size="11" text-anchor="start" fill="#2a2a2a" font-weight="normal" >0.1 μM</text>
<line x1="385.00" y1="299.90" x2="397.58" y2="303.37" stroke="#111" stroke-width="1.6" />
<path d="M402.40,304.70 L396.41,305.74 L397.79,300.73 Z" fill="#111"/>
<text x="442.60" y="280.90" font-size="11" text-anchor="start" fill="#2a2a2a" font-weight="normal" textLength="36.88" lengthAdjust="spacingAndGlyphs" >Control</text>
<line x1="441.70" y1="275.90" x2="428.80" y2="275.97" stroke="#111" stroke-width="1.6" />
<path d="M423.80,276.00 L429.29,273.37 L429.31,278.57 Z" fill="#111"/>
<text x="453.30" y="306.00" font-size="11" text-anchor="start" fill="#2a2a2a" font-weight="normal" >20 μM</text>
<line x1="453.30" y1="305.30" x2="441.29" y2="311.82" stroke="#111" stroke-width="1.6" />
<path d="M436.90,314.20 L440.49,309.29 L442.97,313.86 Z" fill="#111"/>
<text x="451.50" y="327.00" font-size="11" text-anchor="start" fill="#2a2a2a" font-weight="normal" >1 μM</text>
<line x1="452.50" y1="322.60" x2="440.22" y2="326.86" stroke="#111" stroke-width="1.6" />
<path d="M435.50,328.50 L439.84,324.24 L441.55,329.15 Z" fill="#111"/>
</g>
</svg></div>
</body></html>
